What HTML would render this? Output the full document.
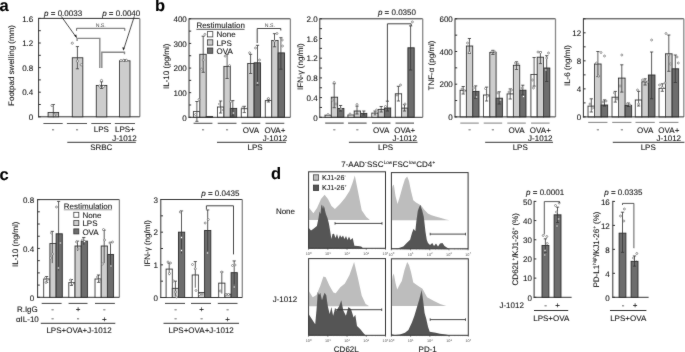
<!DOCTYPE html><html><head><meta charset="utf-8"><style>html,body{margin:0;padding:0;background:#fff;}svg{display:block;font-family:"Liberation Sans",sans-serif;fill:#111;filter:grayscale(100%);}text{fill:#111;stroke:#111;stroke-width:0.08px;text-rendering:geometricPrecision;}</style></head><body>
<svg width="685" height="352" viewBox="0 0 685 352">
<defs><filter id="bl" filterUnits="userSpaceOnUse" x="0" y="0" width="685" height="352"><feConvolveMatrix order="3" kernelMatrix="0.015 0.05 0.015 0.05 0.74 0.05 0.015 0.05 0.015" preserveAlpha="false"/></filter></defs>
<rect width="685" height="352" fill="#fff"/>
<g filter="url(#bl)">
<text x="-0.4" y="11.2" font-size="16.5" text-anchor="start" font-weight="bold" style="fill:#000">a</text>
<text x="155" y="11.3" font-size="16.5" text-anchor="start" font-weight="bold" style="fill:#000">b</text>
<text x="-0.4" y="179.6" font-size="16.5" text-anchor="start" font-weight="bold" style="fill:#000">c</text>
<text x="271.1" y="179.2" font-size="16.5" text-anchor="start" font-weight="bold" style="fill:#000">d</text>
<line x1="38.6" y1="18.4" x2="139.8" y2="18.4" stroke="#333" stroke-width="1"/>
<line x1="139.8" y1="18.4" x2="139.8" y2="116.8" stroke="#888" stroke-width="1.3"/>
<line x1="38.6" y1="17.9" x2="38.6" y2="117.3" stroke="#333" stroke-width="1"/>
<line x1="38.1" y1="116.8" x2="139.8" y2="116.8" stroke="#333" stroke-width="1"/>
<line x1="38.6" y1="116.8" x2="40.8" y2="116.8" stroke="#333" stroke-width="1.0"/>
<text x="33.3" y="120.05" font-size="8" text-anchor="end" >0</text>
<line x1="38.6" y1="92.2" x2="40.8" y2="92.2" stroke="#333" stroke-width="1.0"/>
<text x="33.3" y="95.45" font-size="8" text-anchor="end" >0.4</text>
<line x1="38.6" y1="67.6" x2="40.8" y2="67.6" stroke="#333" stroke-width="1.0"/>
<text x="33.3" y="70.85" font-size="8" text-anchor="end" >0.8</text>
<line x1="38.6" y1="43" x2="40.8" y2="43" stroke="#333" stroke-width="1.0"/>
<text x="33.3" y="46.25" font-size="8" text-anchor="end" >1.2</text>
<line x1="38.6" y1="18.4" x2="40.8" y2="18.4" stroke="#333" stroke-width="1.0"/>
<text x="33.3" y="21.65" font-size="8" text-anchor="end" >1.6</text>
<line x1="38.6" y1="104.5" x2="40.8" y2="104.5" stroke="#333" stroke-width="1.0"/>
<line x1="38.6" y1="79.9" x2="40.8" y2="79.9" stroke="#333" stroke-width="1.0"/>
<line x1="38.6" y1="55.3" x2="40.8" y2="55.3" stroke="#333" stroke-width="1.0"/>
<line x1="38.6" y1="30.7" x2="40.8" y2="30.7" stroke="#333" stroke-width="1.0"/>
<text transform="translate(13.7,65.5) rotate(-90)" font-size="8" text-anchor="middle" >Footpad swelling (mm)</text>
<rect x="48.1" y="112.49" width="10.5" height="4.31" fill="#cdcdcd" stroke="#2a2a2a" stroke-width="0.9"/>
<rect x="72.3" y="57.76" width="10.5" height="59.04" fill="#cdcdcd" stroke="#2a2a2a" stroke-width="0.9"/>
<rect x="96.3" y="85.44" width="10.5" height="31.36" fill="#cdcdcd" stroke="#2a2a2a" stroke-width="0.9"/>
<rect x="119.5" y="60.83" width="10.5" height="55.97" fill="#cdcdcd" stroke="#2a2a2a" stroke-width="0.9"/>
<line x1="53.3" y1="104.5" x2="53.3" y2="117.3" stroke="#333" stroke-width="0.8"/>
<line x1="51.7" y1="104.5" x2="54.9" y2="104.5" stroke="#333" stroke-width="0.8"/>
<line x1="77.4" y1="46.6" x2="77.4" y2="68.8" stroke="#333" stroke-width="0.8"/>
<line x1="75.8" y1="46.6" x2="79" y2="46.6" stroke="#333" stroke-width="0.8"/>
<line x1="75.8" y1="68.8" x2="79" y2="68.8" stroke="#333" stroke-width="0.8"/>
<line x1="101.5" y1="81.75" x2="101.5" y2="88.51" stroke="#333" stroke-width="0.8"/>
<line x1="99.9" y1="81.75" x2="103.1" y2="81.75" stroke="#333" stroke-width="0.8"/>
<line x1="99.9" y1="88.51" x2="103.1" y2="88.51" stroke="#333" stroke-width="0.8"/>
<line x1="124.7" y1="59.6" x2="124.7" y2="62.06" stroke="#333" stroke-width="0.8"/>
<line x1="123.1" y1="59.6" x2="126.3" y2="59.6" stroke="#333" stroke-width="0.8"/>
<circle cx="52" cy="105.5" r="1.1" fill="white" stroke="#555" stroke-width="0.6"/>
<circle cx="54.5" cy="115" r="1.1" fill="white" stroke="#555" stroke-width="0.6"/>
<circle cx="56" cy="114" r="1.1" fill="white" stroke="#555" stroke-width="0.6"/>
<circle cx="72.3" cy="43.2" r="1.1" fill="white" stroke="#555" stroke-width="0.6"/>
<circle cx="77.4" cy="61.1" r="1.1" fill="white" stroke="#555" stroke-width="0.6"/>
<circle cx="81.3" cy="64.8" r="1.1" fill="white" stroke="#555" stroke-width="0.6"/>
<circle cx="101.5" cy="80.5" r="1.1" fill="white" stroke="#555" stroke-width="0.6"/>
<circle cx="99.5" cy="86" r="1.1" fill="white" stroke="#555" stroke-width="0.6"/>
<circle cx="103.5" cy="86.5" r="1.1" fill="white" stroke="#555" stroke-width="0.6"/>
<circle cx="121" cy="60.5" r="1.1" fill="white" stroke="#555" stroke-width="0.6"/>
<circle cx="123.6" cy="60.3" r="1.1" fill="white" stroke="#555" stroke-width="0.6"/>
<circle cx="126.4" cy="60.3" r="1.1" fill="white" stroke="#555" stroke-width="0.6"/>
<text x="44.1" y="15.7" font-size="8" text-anchor="start" ><tspan font-style="italic">p</tspan> = 0.0033</text>
<text x="102.2" y="15.7" font-size="8" text-anchor="start" ><tspan font-style="italic">p</tspan> = 0.0040</text>
<path d="M61.3,16.4 L76.2,37.2" stroke="#222" stroke-width="0.8" fill="none"/>
<path d="M76.9,38.3 L74.2,35.6 L76.3,34.6 Z" fill="#222"/>
<path d="M134.3,16.4 L123.6,49.6" stroke="#222" stroke-width="0.8" fill="none"/>
<path d="M123.3,50.8 L122.3,47.2 L124.7,47.7 Z" fill="#222"/>
<path d="M76.6,30.8 V28.3 H124.8 V30.8" stroke="#555" stroke-width="0.9" fill="none"/>
<text x="100.7" y="27" font-size="5.2" text-anchor="middle" style="stroke:none;fill:#444">N.S.</text>
<path d="M77.1,41 V38.4 H99.8 V68" stroke="#888" stroke-width="1.4" fill="none"/>
<path d="M101.8,68 V52.2 H124.5 V54.3" stroke="#888" stroke-width="1.4" fill="none"/>
<line x1="43.4" y1="123.5" x2="62.7" y2="123.5" stroke="#555" stroke-width="1"/>
<line x1="66.9" y1="123.5" x2="87" y2="123.5" stroke="#555" stroke-width="1"/>
<line x1="91.3" y1="123.5" x2="111" y2="123.5" stroke="#555" stroke-width="1"/>
<line x1="114.8" y1="123.5" x2="135" y2="123.5" stroke="#555" stroke-width="1"/>
<text x="53.1" y="132" font-size="8" text-anchor="middle" >-</text>
<text x="77" y="132" font-size="8" text-anchor="middle" >-</text>
<text x="101.3" y="132.4" font-size="8" text-anchor="middle" >LPS</text>
<text x="124.9" y="132.4" font-size="8" text-anchor="middle" >LPS+</text>
<text x="124.4" y="140.7" font-size="8" text-anchor="middle" >J-1012</text>
<line x1="67.3" y1="142.3" x2="135.8" y2="142.3" stroke="#333" stroke-width="1"/>
<text x="101.3" y="149.5" font-size="8" text-anchor="middle" >SRBC</text>
<rect x="193.4" y="111.6" width="6.4" height="5.7" fill="#fff" stroke="#2a2a2a" stroke-width="0.9"/>
<rect x="199.8" y="54.3" width="6.4" height="63" fill="#cdcdcd" stroke="#2a2a2a" stroke-width="0.9"/>
<rect x="206.2" y="116.6" width="6.4" height="0.7" fill="#6d6d6d" stroke="#2a2a2a" stroke-width="0.9"/>
<rect x="217.5" y="107" width="6.4" height="10.3" fill="#fff" stroke="#2a2a2a" stroke-width="0.9"/>
<rect x="223.9" y="66.4" width="6.4" height="50.9" fill="#cdcdcd" stroke="#2a2a2a" stroke-width="0.9"/>
<rect x="230.3" y="108.4" width="6.4" height="8.9" fill="#6d6d6d" stroke="#2a2a2a" stroke-width="0.9"/>
<rect x="241.3" y="108.7" width="6.4" height="8.6" fill="#fff" stroke="#2a2a2a" stroke-width="0.9"/>
<rect x="247.7" y="63.5" width="6.4" height="53.8" fill="#cdcdcd" stroke="#2a2a2a" stroke-width="0.9"/>
<rect x="254.1" y="62.8" width="6.4" height="54.5" fill="#6d6d6d" stroke="#2a2a2a" stroke-width="0.9"/>
<rect x="265.3" y="100.6" width="6.4" height="16.7" fill="#fff" stroke="#2a2a2a" stroke-width="0.9"/>
<rect x="271.7" y="40.5" width="6.4" height="76.8" fill="#cdcdcd" stroke="#2a2a2a" stroke-width="0.9"/>
<rect x="278.1" y="52.9" width="6.4" height="64.4" fill="#6d6d6d" stroke="#2a2a2a" stroke-width="0.9"/>
<line x1="189" y1="18.8" x2="290.4" y2="18.8" stroke="#333" stroke-width="1"/>
<line x1="290.4" y1="18.8" x2="290.4" y2="117.3" stroke="#888" stroke-width="1.3"/>
<line x1="189" y1="18.3" x2="189" y2="117.8" stroke="#333" stroke-width="1"/>
<line x1="188.5" y1="117.3" x2="290.4" y2="117.3" stroke="#333" stroke-width="1"/>
<line x1="189" y1="117.3" x2="191.2" y2="117.3" stroke="#333" stroke-width="1.0"/>
<text x="186.8" y="120.55" font-size="8" text-anchor="end" >0</text>
<line x1="189" y1="92.67" x2="191.2" y2="92.67" stroke="#333" stroke-width="1.0"/>
<text x="186.8" y="95.92" font-size="8" text-anchor="end" >100</text>
<line x1="189" y1="68.05" x2="191.2" y2="68.05" stroke="#333" stroke-width="1.0"/>
<text x="186.8" y="71.3" font-size="8" text-anchor="end" >200</text>
<line x1="189" y1="43.42" x2="191.2" y2="43.42" stroke="#333" stroke-width="1.0"/>
<text x="186.8" y="46.67" font-size="8" text-anchor="end" >300</text>
<line x1="189" y1="18.8" x2="191.2" y2="18.8" stroke="#333" stroke-width="1.0"/>
<text x="186.8" y="22.05" font-size="8" text-anchor="end" >400</text>
<line x1="189" y1="104.99" x2="191.2" y2="104.99" stroke="#333" stroke-width="1.0"/>
<line x1="189" y1="80.36" x2="191.2" y2="80.36" stroke="#333" stroke-width="1.0"/>
<line x1="189" y1="55.74" x2="191.2" y2="55.74" stroke="#333" stroke-width="1.0"/>
<line x1="189" y1="31.11" x2="191.2" y2="31.11" stroke="#333" stroke-width="1.0"/>
<text transform="translate(168.6,66.3) rotate(-90)" font-size="8" text-anchor="middle" >IL-10 (pg/ml)</text>
<line x1="196.9" y1="101.5" x2="196.9" y2="121.3" stroke="#333" stroke-width="0.8"/>
<line x1="195.3" y1="101.5" x2="198.5" y2="101.5" stroke="#333" stroke-width="0.8"/>
<line x1="195.3" y1="121.3" x2="198.5" y2="121.3" stroke="#333" stroke-width="0.8"/>
<line x1="203.2" y1="36.2" x2="203.2" y2="72.3" stroke="#333" stroke-width="0.8"/>
<line x1="201.6" y1="36.2" x2="204.8" y2="36.2" stroke="#333" stroke-width="0.8"/>
<line x1="201.6" y1="72.3" x2="204.8" y2="72.3" stroke="#333" stroke-width="0.8"/>
<line x1="220.6" y1="101" x2="220.6" y2="113" stroke="#333" stroke-width="0.8"/>
<line x1="219" y1="101" x2="222.2" y2="101" stroke="#333" stroke-width="0.8"/>
<line x1="219" y1="113" x2="222.2" y2="113" stroke="#333" stroke-width="0.8"/>
<line x1="227.1" y1="54.3" x2="227.1" y2="78.5" stroke="#333" stroke-width="0.8"/>
<line x1="225.5" y1="54.3" x2="228.7" y2="54.3" stroke="#333" stroke-width="0.8"/>
<line x1="225.5" y1="78.5" x2="228.7" y2="78.5" stroke="#333" stroke-width="0.8"/>
<line x1="232.8" y1="100.6" x2="232.8" y2="116" stroke="#333" stroke-width="0.8"/>
<line x1="231.2" y1="100.6" x2="234.4" y2="100.6" stroke="#333" stroke-width="0.8"/>
<line x1="231.2" y1="116" x2="234.4" y2="116" stroke="#333" stroke-width="0.8"/>
<line x1="244.3" y1="106.3" x2="244.3" y2="112.6" stroke="#333" stroke-width="0.8"/>
<line x1="242.7" y1="106.3" x2="245.9" y2="106.3" stroke="#333" stroke-width="0.8"/>
<line x1="242.7" y1="112.6" x2="245.9" y2="112.6" stroke="#333" stroke-width="0.8"/>
<line x1="250.6" y1="54.3" x2="250.6" y2="73.5" stroke="#333" stroke-width="0.8"/>
<line x1="249" y1="54.3" x2="252.2" y2="54.3" stroke="#333" stroke-width="0.8"/>
<line x1="249" y1="73.5" x2="252.2" y2="73.5" stroke="#333" stroke-width="0.8"/>
<line x1="257.5" y1="45.3" x2="257.5" y2="85" stroke="#333" stroke-width="0.8"/>
<line x1="255.9" y1="45.3" x2="259.1" y2="45.3" stroke="#333" stroke-width="0.8"/>
<line x1="255.9" y1="85" x2="259.1" y2="85" stroke="#333" stroke-width="0.8"/>
<line x1="268.4" y1="99.1" x2="268.4" y2="102" stroke="#333" stroke-width="0.8"/>
<line x1="266.8" y1="99.1" x2="270" y2="99.1" stroke="#333" stroke-width="0.8"/>
<line x1="266.8" y1="102" x2="270" y2="102" stroke="#333" stroke-width="0.8"/>
<line x1="274.5" y1="33.7" x2="274.5" y2="46.8" stroke="#333" stroke-width="0.8"/>
<line x1="272.9" y1="33.7" x2="276.1" y2="33.7" stroke="#333" stroke-width="0.8"/>
<line x1="272.9" y1="46.8" x2="276.1" y2="46.8" stroke="#333" stroke-width="0.8"/>
<line x1="280.9" y1="37.7" x2="280.9" y2="69.2" stroke="#333" stroke-width="0.8"/>
<line x1="279.3" y1="37.7" x2="282.5" y2="37.7" stroke="#333" stroke-width="0.8"/>
<line x1="279.3" y1="69.2" x2="282.5" y2="69.2" stroke="#333" stroke-width="0.8"/>
<circle cx="199" cy="99.5" r="1.0" fill="white" stroke="#555" stroke-width="0.6"/>
<circle cx="195.5" cy="114.5" r="1.0" fill="white" stroke="#555" stroke-width="0.6"/>
<circle cx="204.9" cy="34.4" r="1.0" fill="white" stroke="#555" stroke-width="0.6"/>
<circle cx="203.2" cy="60" r="1.0" fill="white" stroke="#555" stroke-width="0.6"/>
<circle cx="201.5" cy="69.2" r="1.0" fill="white" stroke="#555" stroke-width="0.6"/>
<circle cx="225.2" cy="56.1" r="1.0" fill="white" stroke="#555" stroke-width="0.6"/>
<circle cx="229.5" cy="65.6" r="1.0" fill="white" stroke="#555" stroke-width="0.6"/>
<circle cx="219.5" cy="104" r="1.0" fill="white" stroke="#555" stroke-width="0.6"/>
<circle cx="221.5" cy="110" r="1.0" fill="white" stroke="#555" stroke-width="0.6"/>
<circle cx="230.8" cy="101.5" r="1.0" fill="white" stroke="#555" stroke-width="0.6"/>
<circle cx="233.5" cy="113" r="1.0" fill="white" stroke="#555" stroke-width="0.6"/>
<circle cx="242.8" cy="107.3" r="1.0" fill="white" stroke="#555" stroke-width="0.6"/>
<circle cx="249.6" cy="52.8" r="1.0" fill="white" stroke="#555" stroke-width="0.6"/>
<circle cx="255.5" cy="48" r="1.0" fill="white" stroke="#555" stroke-width="0.6"/>
<circle cx="259.5" cy="60" r="1.0" fill="white" stroke="#555" stroke-width="0.6"/>
<circle cx="257.5" cy="83" r="1.0" fill="white" stroke="#555" stroke-width="0.6"/>
<circle cx="268.4" cy="98.5" r="1.0" fill="white" stroke="#555" stroke-width="0.6"/>
<circle cx="277" cy="33.5" r="1.0" fill="white" stroke="#555" stroke-width="0.6"/>
<circle cx="274.5" cy="41" r="1.0" fill="white" stroke="#555" stroke-width="0.6"/>
<circle cx="282.2" cy="40" r="1.0" fill="white" stroke="#555" stroke-width="0.6"/>
<circle cx="282.5" cy="46" r="1.0" fill="white" stroke="#555" stroke-width="0.6"/>
<line x1="193.6" y1="123.3" x2="212.4" y2="123.3" stroke="#555" stroke-width="1.1"/>
<line x1="217.7" y1="123.3" x2="236.5" y2="123.3" stroke="#555" stroke-width="1.1"/>
<line x1="241.5" y1="123.3" x2="260.3" y2="123.3" stroke="#555" stroke-width="1.1"/>
<line x1="265.5" y1="123.3" x2="284.3" y2="123.3" stroke="#555" stroke-width="1.1"/>
<text x="203" y="131.6" font-size="8" text-anchor="middle" >-</text>
<text x="227.1" y="131.6" font-size="8" text-anchor="middle" >-</text>
<text x="250.9" y="132.7" font-size="8" text-anchor="middle" >OVA</text>
<text x="274.9" y="132.7" font-size="8" text-anchor="middle" >OVA+</text>
<text x="274.9" y="140.6" font-size="8" text-anchor="middle" >J-1012</text>
<line x1="217" y1="142.3" x2="286" y2="142.3" stroke="#333" stroke-width="1"/>
<text x="255" y="150" font-size="8" text-anchor="middle" >LPS</text>
<text x="196.4" y="28.3" font-size="8" text-anchor="start" >Restimulation</text>
<line x1="196.4" y1="29.3" x2="244.5" y2="29.3" stroke="#444" stroke-width="0.9"/>
<rect x="207.5" y="31.6" width="5.3" height="5.3" fill="#fff" stroke="#333" stroke-width="0.8"/>
<text x="216.6" y="37.4" font-size="8" text-anchor="start" >None</text>
<rect x="207.5" y="39.8" width="5.3" height="5.3" fill="#cdcdcd" stroke="#333" stroke-width="0.8"/>
<text x="216.6" y="45.6" font-size="8" text-anchor="start" >LPS</text>
<rect x="207.5" y="48" width="5.3" height="5.3" fill="#6d6d6d" stroke="#333" stroke-width="0.8"/>
<text x="216.6" y="53.8" font-size="8" text-anchor="start" >OVA</text>
<path d="M257.2,43 V28.5 H280.8 V30.5" stroke="#333" stroke-width="0.9" fill="none"/>
<text x="269.9" y="27.4" font-size="5.2" text-anchor="middle" style="stroke:none;fill:#444">N.S.</text>
<rect x="325" y="115.2" width="6.3" height="2.1" fill="#fff" stroke="#2a2a2a" stroke-width="0.9"/>
<rect x="331.3" y="97.2" width="6.3" height="20.1" fill="#cdcdcd" stroke="#2a2a2a" stroke-width="0.9"/>
<rect x="337.6" y="108.5" width="6.3" height="8.8" fill="#6d6d6d" stroke="#2a2a2a" stroke-width="0.9"/>
<rect x="347.9" y="115" width="6.3" height="2.3" fill="#fff" stroke="#2a2a2a" stroke-width="0.9"/>
<rect x="354.2" y="111" width="6.3" height="6.3" fill="#cdcdcd" stroke="#2a2a2a" stroke-width="0.9"/>
<rect x="360.5" y="113.4" width="6.3" height="3.9" fill="#6d6d6d" stroke="#2a2a2a" stroke-width="0.9"/>
<rect x="371.8" y="113.1" width="6.3" height="4.2" fill="#fff" stroke="#2a2a2a" stroke-width="0.9"/>
<rect x="378.1" y="109.4" width="6.3" height="7.9" fill="#cdcdcd" stroke="#2a2a2a" stroke-width="0.9"/>
<rect x="384.4" y="108" width="6.3" height="9.3" fill="#6d6d6d" stroke="#2a2a2a" stroke-width="0.9"/>
<rect x="395.3" y="93.8" width="6.3" height="23.5" fill="#fff" stroke="#2a2a2a" stroke-width="0.9"/>
<rect x="401.6" y="108.1" width="6.3" height="9.2" fill="#cdcdcd" stroke="#2a2a2a" stroke-width="0.9"/>
<rect x="407.9" y="47.8" width="6.3" height="69.5" fill="#6d6d6d" stroke="#2a2a2a" stroke-width="0.9"/>
<line x1="319.8" y1="18.8" x2="422.7" y2="18.8" stroke="#333" stroke-width="1"/>
<line x1="422.7" y1="18.8" x2="422.7" y2="117.3" stroke="#888" stroke-width="1.3"/>
<line x1="319.8" y1="18.3" x2="319.8" y2="117.8" stroke="#333" stroke-width="1"/>
<line x1="319.3" y1="117.3" x2="422.7" y2="117.3" stroke="#333" stroke-width="1"/>
<line x1="319.8" y1="117.3" x2="322" y2="117.3" stroke="#333" stroke-width="1.0"/>
<text x="317.6" y="120.55" font-size="8" text-anchor="end" >0</text>
<line x1="319.8" y1="97.6" x2="322" y2="97.6" stroke="#333" stroke-width="1.0"/>
<text x="317.6" y="100.85" font-size="8" text-anchor="end" >0.4</text>
<line x1="319.8" y1="77.9" x2="322" y2="77.9" stroke="#333" stroke-width="1.0"/>
<text x="317.6" y="81.15" font-size="8" text-anchor="end" >0.8</text>
<line x1="319.8" y1="58.2" x2="322" y2="58.2" stroke="#333" stroke-width="1.0"/>
<text x="317.6" y="61.45" font-size="8" text-anchor="end" >1.2</text>
<line x1="319.8" y1="38.5" x2="322" y2="38.5" stroke="#333" stroke-width="1.0"/>
<text x="317.6" y="41.75" font-size="8" text-anchor="end" >1.6</text>
<line x1="319.8" y1="18.8" x2="322" y2="18.8" stroke="#333" stroke-width="1.0"/>
<text x="317.6" y="22.05" font-size="8" text-anchor="end" >2.0</text>
<line x1="319.8" y1="107.45" x2="322" y2="107.45" stroke="#333" stroke-width="1.0"/>
<line x1="319.8" y1="87.75" x2="322" y2="87.75" stroke="#333" stroke-width="1.0"/>
<line x1="319.8" y1="68.05" x2="322" y2="68.05" stroke="#333" stroke-width="1.0"/>
<line x1="319.8" y1="48.35" x2="322" y2="48.35" stroke="#333" stroke-width="1.0"/>
<line x1="319.8" y1="28.65" x2="322" y2="28.65" stroke="#333" stroke-width="1.0"/>
<text transform="translate(302.6,66.6) rotate(-90)" font-size="8" text-anchor="middle" >IFN-&#947; (ng/ml)</text>
<line x1="334.2" y1="83.7" x2="334.2" y2="107.7" stroke="#333" stroke-width="0.8"/>
<line x1="332.6" y1="83.7" x2="335.8" y2="83.7" stroke="#333" stroke-width="0.8"/>
<line x1="332.6" y1="107.7" x2="335.8" y2="107.7" stroke="#333" stroke-width="0.8"/>
<line x1="340.6" y1="105.5" x2="340.6" y2="111" stroke="#333" stroke-width="0.8"/>
<line x1="339" y1="105.5" x2="342.2" y2="105.5" stroke="#333" stroke-width="0.8"/>
<line x1="339" y1="111" x2="342.2" y2="111" stroke="#333" stroke-width="0.8"/>
<line x1="357" y1="106.1" x2="357" y2="114" stroke="#333" stroke-width="0.8"/>
<line x1="355.4" y1="106.1" x2="358.6" y2="106.1" stroke="#333" stroke-width="0.8"/>
<line x1="355.4" y1="114" x2="358.6" y2="114" stroke="#333" stroke-width="0.8"/>
<line x1="363.8" y1="111" x2="363.8" y2="115" stroke="#333" stroke-width="0.8"/>
<line x1="362.2" y1="111" x2="365.4" y2="111" stroke="#333" stroke-width="0.8"/>
<line x1="362.2" y1="115" x2="365.4" y2="115" stroke="#333" stroke-width="0.8"/>
<line x1="375" y1="111" x2="375" y2="115" stroke="#333" stroke-width="0.8"/>
<line x1="373.4" y1="111" x2="376.6" y2="111" stroke="#333" stroke-width="0.8"/>
<line x1="373.4" y1="115" x2="376.6" y2="115" stroke="#333" stroke-width="0.8"/>
<line x1="381.2" y1="106.5" x2="381.2" y2="112" stroke="#333" stroke-width="0.8"/>
<line x1="379.6" y1="106.5" x2="382.8" y2="106.5" stroke="#333" stroke-width="0.8"/>
<line x1="379.6" y1="112" x2="382.8" y2="112" stroke="#333" stroke-width="0.8"/>
<line x1="387.4" y1="101.2" x2="387.4" y2="111" stroke="#333" stroke-width="0.8"/>
<line x1="385.8" y1="101.2" x2="389" y2="101.2" stroke="#333" stroke-width="0.8"/>
<line x1="385.8" y1="111" x2="389" y2="111" stroke="#333" stroke-width="0.8"/>
<line x1="398.4" y1="86.3" x2="398.4" y2="101" stroke="#333" stroke-width="0.8"/>
<line x1="396.8" y1="86.3" x2="400" y2="86.3" stroke="#333" stroke-width="0.8"/>
<line x1="396.8" y1="101" x2="400" y2="101" stroke="#333" stroke-width="0.8"/>
<line x1="404.5" y1="104.7" x2="404.5" y2="111" stroke="#333" stroke-width="0.8"/>
<line x1="402.9" y1="104.7" x2="406.1" y2="104.7" stroke="#333" stroke-width="0.8"/>
<line x1="402.9" y1="111" x2="406.1" y2="111" stroke="#333" stroke-width="0.8"/>
<line x1="410.6" y1="25.9" x2="410.6" y2="70" stroke="#333" stroke-width="0.8"/>
<line x1="409" y1="25.9" x2="412.2" y2="25.9" stroke="#333" stroke-width="0.8"/>
<line x1="409" y1="70" x2="412.2" y2="70" stroke="#333" stroke-width="0.8"/>
<circle cx="334.2" cy="82.5" r="1.0" fill="white" stroke="#555" stroke-width="0.6"/>
<circle cx="332.5" cy="100" r="1.0" fill="white" stroke="#555" stroke-width="0.6"/>
<circle cx="336" cy="104" r="1.0" fill="white" stroke="#555" stroke-width="0.6"/>
<circle cx="328" cy="114.5" r="1.0" fill="white" stroke="#555" stroke-width="0.6"/>
<circle cx="341" cy="109" r="1.0" fill="white" stroke="#555" stroke-width="0.6"/>
<circle cx="350" cy="114" r="1.0" fill="white" stroke="#555" stroke-width="0.6"/>
<circle cx="357" cy="104.5" r="1.0" fill="white" stroke="#555" stroke-width="0.6"/>
<circle cx="376.5" cy="110" r="1.0" fill="white" stroke="#555" stroke-width="0.6"/>
<circle cx="385.5" cy="106.5" r="1.0" fill="white" stroke="#555" stroke-width="0.6"/>
<circle cx="400.5" cy="85" r="1.0" fill="white" stroke="#555" stroke-width="0.6"/>
<circle cx="397" cy="95" r="1.0" fill="white" stroke="#555" stroke-width="0.6"/>
<circle cx="405" cy="104" r="1.0" fill="white" stroke="#555" stroke-width="0.6"/>
<circle cx="412.4" cy="21.9" r="1.0" fill="white" stroke="#555" stroke-width="0.6"/>
<line x1="325.2" y1="123.1" x2="343.7" y2="123.1" stroke="#4a4a4a" stroke-width="1.1"/>
<line x1="348.1" y1="123.1" x2="366.6" y2="123.1" stroke="#4a4a4a" stroke-width="1.1"/>
<line x1="372" y1="123.1" x2="390.5" y2="123.1" stroke="#4a4a4a" stroke-width="1.1"/>
<line x1="395.5" y1="123.1" x2="414" y2="123.1" stroke="#4a4a4a" stroke-width="1.1"/>
<text x="334.45" y="131.6" font-size="8" text-anchor="middle" >-</text>
<text x="357.35" y="131.6" font-size="8" text-anchor="middle" >-</text>
<text x="381.25" y="132.7" font-size="8" text-anchor="middle" >OVA</text>
<text x="404.75" y="132.7" font-size="8" text-anchor="middle" >OVA+</text>
<text x="404.75" y="140.6" font-size="8" text-anchor="middle" >J-1012</text>
<line x1="348.9" y1="142.3" x2="417.5" y2="142.3" stroke="#333" stroke-width="1"/>
<text x="385.6" y="150" font-size="8" text-anchor="middle" >LPS</text>
<text x="377.9" y="15.4" font-size="8" text-anchor="start" ><tspan font-style="italic">p</tspan> = 0.0350</text>
<path d="M387.4,101.3 V23.8 H411.2 V26" stroke="#333" stroke-width="0.9" fill="none"/>
<rect x="460.1" y="90.3" width="6.3" height="26.6" fill="#fff" stroke="#2a2a2a" stroke-width="0.9"/>
<rect x="466.4" y="46" width="6.3" height="70.9" fill="#cdcdcd" stroke="#2a2a2a" stroke-width="0.9"/>
<rect x="472.7" y="91.4" width="6.3" height="25.5" fill="#6d6d6d" stroke="#2a2a2a" stroke-width="0.9"/>
<rect x="483.5" y="95" width="6.3" height="21.9" fill="#fff" stroke="#2a2a2a" stroke-width="0.9"/>
<rect x="489.8" y="52.4" width="6.3" height="64.5" fill="#cdcdcd" stroke="#2a2a2a" stroke-width="0.9"/>
<rect x="496.1" y="98.2" width="6.3" height="18.7" fill="#6d6d6d" stroke="#2a2a2a" stroke-width="0.9"/>
<rect x="507.1" y="93.9" width="6.3" height="23" fill="#fff" stroke="#2a2a2a" stroke-width="0.9"/>
<rect x="513.4" y="65.3" width="6.3" height="51.6" fill="#cdcdcd" stroke="#2a2a2a" stroke-width="0.9"/>
<rect x="519.7" y="90.2" width="6.3" height="26.7" fill="#6d6d6d" stroke="#2a2a2a" stroke-width="0.9"/>
<rect x="530.9" y="74.5" width="6.3" height="42.4" fill="#fff" stroke="#2a2a2a" stroke-width="0.9"/>
<rect x="537.2" y="57.2" width="6.3" height="59.7" fill="#cdcdcd" stroke="#2a2a2a" stroke-width="0.9"/>
<rect x="543.5" y="68" width="6.3" height="48.9" fill="#6d6d6d" stroke="#2a2a2a" stroke-width="0.9"/>
<line x1="455" y1="18.8" x2="555.5" y2="18.8" stroke="#333" stroke-width="1"/>
<line x1="555.5" y1="18.8" x2="555.5" y2="116.9" stroke="#888" stroke-width="1.3"/>
<line x1="455" y1="18.3" x2="455" y2="117.4" stroke="#333" stroke-width="1"/>
<line x1="454.5" y1="116.9" x2="555.5" y2="116.9" stroke="#333" stroke-width="1"/>
<line x1="455" y1="116.9" x2="457.2" y2="116.9" stroke="#333" stroke-width="1.0"/>
<text x="452.8" y="120.15" font-size="8" text-anchor="end" >0</text>
<line x1="455" y1="84.2" x2="457.2" y2="84.2" stroke="#333" stroke-width="1.0"/>
<text x="452.8" y="87.45" font-size="8" text-anchor="end" >200</text>
<line x1="455" y1="51.5" x2="457.2" y2="51.5" stroke="#333" stroke-width="1.0"/>
<text x="452.8" y="54.75" font-size="8" text-anchor="end" >400</text>
<line x1="455" y1="18.8" x2="457.2" y2="18.8" stroke="#333" stroke-width="1.0"/>
<text x="452.8" y="22.05" font-size="8" text-anchor="end" >600</text>
<line x1="455" y1="100.55" x2="457.2" y2="100.55" stroke="#333" stroke-width="1.0"/>
<line x1="455" y1="67.85" x2="457.2" y2="67.85" stroke="#333" stroke-width="1.0"/>
<line x1="455" y1="35.15" x2="457.2" y2="35.15" stroke="#333" stroke-width="1.0"/>
<text transform="translate(434.3,65.5) rotate(-90)" font-size="8" text-anchor="middle" >TNF-&#945; (pg/ml)</text>
<line x1="463.2" y1="86.5" x2="463.2" y2="94" stroke="#333" stroke-width="0.8"/>
<line x1="461.6" y1="86.5" x2="464.8" y2="86.5" stroke="#333" stroke-width="0.8"/>
<line x1="461.6" y1="94" x2="464.8" y2="94" stroke="#333" stroke-width="0.8"/>
<line x1="469.4" y1="38.5" x2="469.4" y2="53.5" stroke="#333" stroke-width="0.8"/>
<line x1="467.8" y1="38.5" x2="471" y2="38.5" stroke="#333" stroke-width="0.8"/>
<line x1="467.8" y1="53.5" x2="471" y2="53.5" stroke="#333" stroke-width="0.8"/>
<line x1="475.7" y1="85.9" x2="475.7" y2="98.2" stroke="#333" stroke-width="0.8"/>
<line x1="474.1" y1="85.9" x2="477.3" y2="85.9" stroke="#333" stroke-width="0.8"/>
<line x1="474.1" y1="98.2" x2="477.3" y2="98.2" stroke="#333" stroke-width="0.8"/>
<line x1="486.6" y1="87.1" x2="486.6" y2="101" stroke="#333" stroke-width="0.8"/>
<line x1="485" y1="87.1" x2="488.2" y2="87.1" stroke="#333" stroke-width="0.8"/>
<line x1="485" y1="101" x2="488.2" y2="101" stroke="#333" stroke-width="0.8"/>
<line x1="492.9" y1="50.3" x2="492.9" y2="54.5" stroke="#333" stroke-width="0.8"/>
<line x1="491.3" y1="50.3" x2="494.5" y2="50.3" stroke="#333" stroke-width="0.8"/>
<line x1="491.3" y1="54.5" x2="494.5" y2="54.5" stroke="#333" stroke-width="0.8"/>
<line x1="499.2" y1="91.8" x2="499.2" y2="104" stroke="#333" stroke-width="0.8"/>
<line x1="497.6" y1="91.8" x2="500.8" y2="91.8" stroke="#333" stroke-width="0.8"/>
<line x1="497.6" y1="104" x2="500.8" y2="104" stroke="#333" stroke-width="0.8"/>
<line x1="510.2" y1="88.9" x2="510.2" y2="99" stroke="#333" stroke-width="0.8"/>
<line x1="508.6" y1="88.9" x2="511.8" y2="88.9" stroke="#333" stroke-width="0.8"/>
<line x1="508.6" y1="99" x2="511.8" y2="99" stroke="#333" stroke-width="0.8"/>
<line x1="516.5" y1="61.8" x2="516.5" y2="69.5" stroke="#333" stroke-width="0.8"/>
<line x1="514.9" y1="61.8" x2="518.1" y2="61.8" stroke="#333" stroke-width="0.8"/>
<line x1="514.9" y1="69.5" x2="518.1" y2="69.5" stroke="#333" stroke-width="0.8"/>
<line x1="522.8" y1="85.2" x2="522.8" y2="95" stroke="#333" stroke-width="0.8"/>
<line x1="521.2" y1="85.2" x2="524.4" y2="85.2" stroke="#333" stroke-width="0.8"/>
<line x1="521.2" y1="95" x2="524.4" y2="95" stroke="#333" stroke-width="0.8"/>
<line x1="534.1" y1="57.5" x2="534.1" y2="86.1" stroke="#333" stroke-width="0.8"/>
<line x1="532.5" y1="57.5" x2="535.7" y2="57.5" stroke="#333" stroke-width="0.8"/>
<line x1="532.5" y1="86.1" x2="535.7" y2="86.1" stroke="#333" stroke-width="0.8"/>
<line x1="540.4" y1="52" x2="540.4" y2="63.6" stroke="#333" stroke-width="0.8"/>
<line x1="538.8" y1="52" x2="542" y2="52" stroke="#333" stroke-width="0.8"/>
<line x1="538.8" y1="63.6" x2="542" y2="63.6" stroke="#333" stroke-width="0.8"/>
<line x1="546.7" y1="55.7" x2="546.7" y2="81.5" stroke="#333" stroke-width="0.8"/>
<line x1="545.1" y1="55.7" x2="548.3" y2="55.7" stroke="#333" stroke-width="0.8"/>
<line x1="545.1" y1="81.5" x2="548.3" y2="81.5" stroke="#333" stroke-width="0.8"/>
<circle cx="462" cy="89" r="1.0" fill="white" stroke="#555" stroke-width="0.6"/>
<circle cx="464.5" cy="91" r="1.0" fill="white" stroke="#555" stroke-width="0.6"/>
<circle cx="469.4" cy="52.5" r="1.0" fill="white" stroke="#555" stroke-width="0.6"/>
<circle cx="467.5" cy="43" r="1.0" fill="white" stroke="#555" stroke-width="0.6"/>
<circle cx="473.5" cy="88" r="1.0" fill="white" stroke="#555" stroke-width="0.6"/>
<circle cx="476.7" cy="97" r="1.0" fill="white" stroke="#555" stroke-width="0.6"/>
<circle cx="485.5" cy="88.5" r="1.0" fill="white" stroke="#555" stroke-width="0.6"/>
<circle cx="487.5" cy="96" r="1.0" fill="white" stroke="#555" stroke-width="0.6"/>
<circle cx="492" cy="51.5" r="1.0" fill="white" stroke="#555" stroke-width="0.6"/>
<circle cx="495" cy="52" r="1.0" fill="white" stroke="#555" stroke-width="0.6"/>
<circle cx="498" cy="93" r="1.0" fill="white" stroke="#555" stroke-width="0.6"/>
<circle cx="500.5" cy="100" r="1.0" fill="white" stroke="#555" stroke-width="0.6"/>
<circle cx="509" cy="92" r="1.0" fill="white" stroke="#555" stroke-width="0.6"/>
<circle cx="511.5" cy="90" r="1.0" fill="white" stroke="#555" stroke-width="0.6"/>
<circle cx="515.5" cy="63" r="1.0" fill="white" stroke="#555" stroke-width="0.6"/>
<circle cx="518" cy="64" r="1.0" fill="white" stroke="#555" stroke-width="0.6"/>
<circle cx="522" cy="88" r="1.0" fill="white" stroke="#555" stroke-width="0.6"/>
<circle cx="523.5" cy="96.5" r="1.0" fill="white" stroke="#555" stroke-width="0.6"/>
<circle cx="532.5" cy="80" r="1.0" fill="white" stroke="#555" stroke-width="0.6"/>
<circle cx="533.5" cy="88" r="1.0" fill="white" stroke="#555" stroke-width="0.6"/>
<circle cx="538" cy="52" r="1.0" fill="white" stroke="#555" stroke-width="0.6"/>
<circle cx="540.5" cy="52.5" r="1.0" fill="white" stroke="#555" stroke-width="0.6"/>
<circle cx="546.7" cy="58" r="1.0" fill="white" stroke="#555" stroke-width="0.6"/>
<circle cx="545.8" cy="70" r="1.0" fill="white" stroke="#555" stroke-width="0.6"/>
<circle cx="548.5" cy="53" r="1.0" fill="white" stroke="#555" stroke-width="0.6"/>
<line x1="460.3" y1="123.1" x2="478.8" y2="123.1" stroke="#8c8c8c" stroke-width="1.1"/>
<line x1="483.7" y1="123.1" x2="502.2" y2="123.1" stroke="#8c8c8c" stroke-width="1.1"/>
<line x1="507.3" y1="123.1" x2="525.8" y2="123.1" stroke="#8c8c8c" stroke-width="1.1"/>
<line x1="531.1" y1="123.1" x2="549.6" y2="123.1" stroke="#8c8c8c" stroke-width="1.1"/>
<text x="469.55" y="131.6" font-size="8" text-anchor="middle" >-</text>
<text x="492.95" y="131.6" font-size="8" text-anchor="middle" >-</text>
<text x="516.55" y="132.7" font-size="8" text-anchor="middle" >OVA</text>
<text x="540.35" y="132.7" font-size="8" text-anchor="middle" >OVA+</text>
<text x="540.35" y="140.6" font-size="8" text-anchor="middle" >J-1012</text>
<line x1="485.2" y1="142.3" x2="553" y2="142.3" stroke="#333" stroke-width="1"/>
<text x="520.2" y="150" font-size="8" text-anchor="middle" >LPS</text>
<rect x="588" y="106.1" width="6.55" height="10.8" fill="#fff" stroke="#2a2a2a" stroke-width="0.9"/>
<rect x="594.55" y="64" width="6.55" height="52.9" fill="#cdcdcd" stroke="#2a2a2a" stroke-width="0.9"/>
<rect x="601.1" y="105" width="6.55" height="11.9" fill="#6d6d6d" stroke="#2a2a2a" stroke-width="0.9"/>
<rect x="612" y="97.2" width="6.55" height="19.7" fill="#fff" stroke="#2a2a2a" stroke-width="0.9"/>
<rect x="618.55" y="78.1" width="6.55" height="38.8" fill="#cdcdcd" stroke="#2a2a2a" stroke-width="0.9"/>
<rect x="625.1" y="105.4" width="6.55" height="11.5" fill="#6d6d6d" stroke="#2a2a2a" stroke-width="0.9"/>
<rect x="635.3" y="100" width="6.55" height="16.9" fill="#fff" stroke="#2a2a2a" stroke-width="0.9"/>
<rect x="641.85" y="81.8" width="6.55" height="35.1" fill="#cdcdcd" stroke="#2a2a2a" stroke-width="0.9"/>
<rect x="648.4" y="75" width="6.55" height="41.9" fill="#6d6d6d" stroke="#2a2a2a" stroke-width="0.9"/>
<rect x="659" y="88.3" width="6.55" height="28.6" fill="#fff" stroke="#2a2a2a" stroke-width="0.9"/>
<rect x="665.55" y="53.8" width="6.55" height="63.1" fill="#cdcdcd" stroke="#2a2a2a" stroke-width="0.9"/>
<rect x="672.1" y="68.8" width="6.55" height="48.1" fill="#6d6d6d" stroke="#2a2a2a" stroke-width="0.9"/>
<line x1="583.4" y1="18.8" x2="683.8" y2="18.8" stroke="#333" stroke-width="1"/>
<line x1="683.8" y1="18.8" x2="683.8" y2="116.9" stroke="#888" stroke-width="1.3"/>
<line x1="583.4" y1="18.3" x2="583.4" y2="117.4" stroke="#333" stroke-width="1"/>
<line x1="582.9" y1="116.9" x2="683.8" y2="116.9" stroke="#333" stroke-width="1"/>
<line x1="583.4" y1="116.9" x2="585.6" y2="116.9" stroke="#333" stroke-width="1.0"/>
<text x="581.2" y="120.15" font-size="8" text-anchor="end" >0</text>
<line x1="583.4" y1="88.87" x2="585.6" y2="88.87" stroke="#333" stroke-width="1.0"/>
<text x="581.2" y="92.12" font-size="8" text-anchor="end" >4</text>
<line x1="583.4" y1="60.84" x2="585.6" y2="60.84" stroke="#333" stroke-width="1.0"/>
<text x="581.2" y="64.09" font-size="8" text-anchor="end" >8</text>
<line x1="583.4" y1="32.81" x2="585.6" y2="32.81" stroke="#333" stroke-width="1.0"/>
<text x="581.2" y="36.06" font-size="8" text-anchor="end" >12</text>
<line x1="583.4" y1="102.89" x2="585.6" y2="102.89" stroke="#333" stroke-width="1.0"/>
<line x1="583.4" y1="74.86" x2="585.6" y2="74.86" stroke="#333" stroke-width="1.0"/>
<line x1="583.4" y1="46.83" x2="585.6" y2="46.83" stroke="#333" stroke-width="1.0"/>
<line x1="583.4" y1="18.8" x2="585.6" y2="18.8" stroke="#333" stroke-width="1.0"/>
<text transform="translate(570.3,65.6) rotate(-90)" font-size="8" text-anchor="middle" >IL-6 (ng/ml)</text>
<line x1="591.3" y1="98.8" x2="591.3" y2="112" stroke="#333" stroke-width="0.8"/>
<line x1="589.7" y1="98.8" x2="592.9" y2="98.8" stroke="#333" stroke-width="0.8"/>
<line x1="589.7" y1="112" x2="592.9" y2="112" stroke="#333" stroke-width="0.8"/>
<line x1="597.9" y1="51.5" x2="597.9" y2="76.6" stroke="#333" stroke-width="0.8"/>
<line x1="596.3" y1="51.5" x2="599.5" y2="51.5" stroke="#333" stroke-width="0.8"/>
<line x1="596.3" y1="76.6" x2="599.5" y2="76.6" stroke="#333" stroke-width="0.8"/>
<line x1="604.5" y1="99.9" x2="604.5" y2="106" stroke="#333" stroke-width="0.8"/>
<line x1="602.9" y1="99.9" x2="606.1" y2="99.9" stroke="#333" stroke-width="0.8"/>
<line x1="602.9" y1="106" x2="606.1" y2="106" stroke="#333" stroke-width="0.8"/>
<line x1="615.3" y1="91.4" x2="615.3" y2="102.1" stroke="#333" stroke-width="0.8"/>
<line x1="613.7" y1="91.4" x2="616.9" y2="91.4" stroke="#333" stroke-width="0.8"/>
<line x1="613.7" y1="102.1" x2="616.9" y2="102.1" stroke="#333" stroke-width="0.8"/>
<line x1="621.8" y1="64.8" x2="621.8" y2="92.1" stroke="#333" stroke-width="0.8"/>
<line x1="620.2" y1="64.8" x2="623.4" y2="64.8" stroke="#333" stroke-width="0.8"/>
<line x1="620.2" y1="92.1" x2="623.4" y2="92.1" stroke="#333" stroke-width="0.8"/>
<line x1="628.3" y1="103" x2="628.3" y2="106.5" stroke="#333" stroke-width="0.8"/>
<line x1="626.7" y1="103" x2="629.9" y2="103" stroke="#333" stroke-width="0.8"/>
<line x1="626.7" y1="106.5" x2="629.9" y2="106.5" stroke="#333" stroke-width="0.8"/>
<line x1="638.6" y1="91.3" x2="638.6" y2="106" stroke="#333" stroke-width="0.8"/>
<line x1="637" y1="91.3" x2="640.2" y2="91.3" stroke="#333" stroke-width="0.8"/>
<line x1="637" y1="106" x2="640.2" y2="106" stroke="#333" stroke-width="0.8"/>
<line x1="645.1" y1="78.8" x2="645.1" y2="85" stroke="#333" stroke-width="0.8"/>
<line x1="643.5" y1="78.8" x2="646.7" y2="78.8" stroke="#333" stroke-width="0.8"/>
<line x1="643.5" y1="85" x2="646.7" y2="85" stroke="#333" stroke-width="0.8"/>
<line x1="651.6" y1="52" x2="651.6" y2="98.8" stroke="#333" stroke-width="0.8"/>
<line x1="650" y1="52" x2="653.2" y2="52" stroke="#333" stroke-width="0.8"/>
<line x1="650" y1="98.8" x2="653.2" y2="98.8" stroke="#333" stroke-width="0.8"/>
<line x1="662.3" y1="83.8" x2="662.3" y2="91.3" stroke="#333" stroke-width="0.8"/>
<line x1="660.7" y1="83.8" x2="663.9" y2="83.8" stroke="#333" stroke-width="0.8"/>
<line x1="660.7" y1="91.3" x2="663.9" y2="91.3" stroke="#333" stroke-width="0.8"/>
<line x1="668.8" y1="35" x2="668.8" y2="71.3" stroke="#333" stroke-width="0.8"/>
<line x1="667.2" y1="35" x2="670.4" y2="35" stroke="#333" stroke-width="0.8"/>
<line x1="667.2" y1="71.3" x2="670.4" y2="71.3" stroke="#333" stroke-width="0.8"/>
<line x1="675.3" y1="55" x2="675.3" y2="82.5" stroke="#333" stroke-width="0.8"/>
<line x1="673.7" y1="55" x2="676.9" y2="55" stroke="#333" stroke-width="0.8"/>
<line x1="673.7" y1="82.5" x2="676.9" y2="82.5" stroke="#333" stroke-width="0.8"/>
<circle cx="590" cy="104" r="1.0" fill="white" stroke="#555" stroke-width="0.6"/>
<circle cx="592.5" cy="108" r="1.0" fill="white" stroke="#555" stroke-width="0.6"/>
<circle cx="596.5" cy="63" r="1.0" fill="white" stroke="#555" stroke-width="0.6"/>
<circle cx="598.5" cy="76" r="1.0" fill="white" stroke="#555" stroke-width="0.6"/>
<circle cx="601" cy="52.5" r="1.0" fill="white" stroke="#555" stroke-width="0.6"/>
<circle cx="604.5" cy="56" r="1.0" fill="white" stroke="#555" stroke-width="0.6"/>
<circle cx="603" cy="102" r="1.0" fill="white" stroke="#555" stroke-width="0.6"/>
<circle cx="606" cy="101" r="1.0" fill="white" stroke="#555" stroke-width="0.6"/>
<circle cx="614.5" cy="93" r="1.0" fill="white" stroke="#555" stroke-width="0.6"/>
<circle cx="617" cy="99" r="1.0" fill="white" stroke="#555" stroke-width="0.6"/>
<circle cx="621.8" cy="55" r="1.0" fill="white" stroke="#555" stroke-width="0.6"/>
<circle cx="620" cy="86" r="1.0" fill="white" stroke="#555" stroke-width="0.6"/>
<circle cx="627.5" cy="104" r="1.0" fill="white" stroke="#555" stroke-width="0.6"/>
<circle cx="630" cy="105" r="1.0" fill="white" stroke="#555" stroke-width="0.6"/>
<circle cx="637.5" cy="90" r="1.0" fill="white" stroke="#555" stroke-width="0.6"/>
<circle cx="638.6" cy="104" r="1.0" fill="white" stroke="#555" stroke-width="0.6"/>
<circle cx="642.5" cy="80" r="1.0" fill="white" stroke="#555" stroke-width="0.6"/>
<circle cx="645.1" cy="81" r="1.0" fill="white" stroke="#555" stroke-width="0.6"/>
<circle cx="647.5" cy="82" r="1.0" fill="white" stroke="#555" stroke-width="0.6"/>
<circle cx="651.6" cy="40" r="1.0" fill="white" stroke="#555" stroke-width="0.6"/>
<circle cx="659.5" cy="85" r="1.0" fill="white" stroke="#555" stroke-width="0.6"/>
<circle cx="662.3" cy="87.5" r="1.0" fill="white" stroke="#555" stroke-width="0.6"/>
<circle cx="665" cy="83" r="1.0" fill="white" stroke="#555" stroke-width="0.6"/>
<circle cx="666" cy="33.5" r="1.0" fill="white" stroke="#555" stroke-width="0.6"/>
<circle cx="668.8" cy="55" r="1.0" fill="white" stroke="#555" stroke-width="0.6"/>
<circle cx="670.5" cy="64" r="1.0" fill="white" stroke="#555" stroke-width="0.6"/>
<circle cx="677" cy="57" r="1.0" fill="white" stroke="#555" stroke-width="0.6"/>
<circle cx="678.3" cy="63" r="1.0" fill="white" stroke="#555" stroke-width="0.6"/>
<line x1="588.2" y1="122.4" x2="607.45" y2="122.4" stroke="#8c8c8c" stroke-width="1.1"/>
<line x1="612.2" y1="122.4" x2="631.45" y2="122.4" stroke="#8c8c8c" stroke-width="1.1"/>
<line x1="635.5" y1="122.4" x2="654.75" y2="122.4" stroke="#8c8c8c" stroke-width="1.1"/>
<line x1="659.2" y1="122.4" x2="678.45" y2="122.4" stroke="#8c8c8c" stroke-width="1.1"/>
<text x="597.83" y="131.6" font-size="8" text-anchor="middle" >-</text>
<text x="621.83" y="131.6" font-size="8" text-anchor="middle" >-</text>
<text x="645.12" y="132.7" font-size="8" text-anchor="middle" >OVA</text>
<text x="668.83" y="132.7" font-size="8" text-anchor="middle" >OVA+</text>
<text x="668.83" y="140.6" font-size="8" text-anchor="middle" >J-1012</text>
<line x1="612.8" y1="142.3" x2="684.4" y2="142.3" stroke="#333" stroke-width="1"/>
<text x="648.2" y="150" font-size="8" text-anchor="middle" >LPS</text>
<line x1="37.6" y1="199.6" x2="119.4" y2="199.6" stroke="#333" stroke-width="1"/>
<line x1="119.4" y1="199.6" x2="119.4" y2="297.3" stroke="#888" stroke-width="1.3"/>
<line x1="37.6" y1="199.1" x2="37.6" y2="297.8" stroke="#333" stroke-width="1"/>
<line x1="37.1" y1="297.3" x2="119.4" y2="297.3" stroke="#333" stroke-width="1"/>
<line x1="37.6" y1="297.3" x2="39.8" y2="297.3" stroke="#333" stroke-width="1.0"/>
<text x="34.2" y="300.55" font-size="8" text-anchor="end" >0</text>
<line x1="37.6" y1="248.45" x2="39.8" y2="248.45" stroke="#333" stroke-width="1.0"/>
<text x="34.2" y="251.7" font-size="8" text-anchor="end" >0.4</text>
<line x1="37.6" y1="199.6" x2="39.8" y2="199.6" stroke="#333" stroke-width="1.0"/>
<text x="34.2" y="202.85" font-size="8" text-anchor="end" >0.8</text>
<line x1="37.6" y1="285.09" x2="39.8" y2="285.09" stroke="#333" stroke-width="1.0"/>
<line x1="37.6" y1="272.88" x2="39.8" y2="272.88" stroke="#333" stroke-width="1.0"/>
<line x1="37.6" y1="260.66" x2="39.8" y2="260.66" stroke="#333" stroke-width="1.0"/>
<line x1="37.6" y1="236.24" x2="39.8" y2="236.24" stroke="#333" stroke-width="1.0"/>
<line x1="37.6" y1="224.03" x2="39.8" y2="224.03" stroke="#333" stroke-width="1.0"/>
<line x1="37.6" y1="211.81" x2="39.8" y2="211.81" stroke="#333" stroke-width="1.0"/>
<text transform="translate(18.1,244.3) rotate(-90)" font-size="8" text-anchor="middle" >IL-10 (ng/ml)</text>
<rect x="43.7" y="278.98" width="6.2" height="18.32" fill="#fff" stroke="#2a2a2a" stroke-width="0.9"/>
<rect x="49.9" y="243.56" width="6.2" height="53.74" fill="#cdcdcd" stroke="#2a2a2a" stroke-width="0.9"/>
<rect x="56.1" y="233.8" width="6.2" height="63.5" fill="#6d6d6d" stroke="#2a2a2a" stroke-width="0.9"/>
<rect x="68.8" y="282.64" width="6.2" height="14.66" fill="#fff" stroke="#2a2a2a" stroke-width="0.9"/>
<rect x="75" y="246.01" width="6.2" height="51.29" fill="#cdcdcd" stroke="#2a2a2a" stroke-width="0.9"/>
<rect x="81.2" y="241.12" width="6.2" height="56.18" fill="#6d6d6d" stroke="#2a2a2a" stroke-width="0.9"/>
<rect x="95" y="278.98" width="6.2" height="18.32" fill="#fff" stroke="#2a2a2a" stroke-width="0.9"/>
<rect x="101.2" y="246.01" width="6.2" height="51.29" fill="#cdcdcd" stroke="#2a2a2a" stroke-width="0.9"/>
<rect x="107.4" y="254.56" width="6.2" height="42.74" fill="#6d6d6d" stroke="#2a2a2a" stroke-width="0.9"/>
<line x1="52.3" y1="231.35" x2="52.3" y2="263.11" stroke="#333" stroke-width="0.8"/>
<line x1="50.7" y1="231.35" x2="53.9" y2="231.35" stroke="#333" stroke-width="0.8"/>
<line x1="58.6" y1="201.4" x2="58.6" y2="270.43" stroke="#333" stroke-width="0.8"/>
<line x1="57" y1="201.4" x2="60.2" y2="201.4" stroke="#333" stroke-width="0.8"/>
<line x1="77.5" y1="241.12" x2="77.5" y2="250.89" stroke="#333" stroke-width="0.8"/>
<line x1="75.9" y1="241.12" x2="79.1" y2="241.12" stroke="#333" stroke-width="0.8"/>
<line x1="83.8" y1="237.46" x2="83.8" y2="244.79" stroke="#333" stroke-width="0.8"/>
<line x1="82.2" y1="237.46" x2="85.4" y2="237.46" stroke="#333" stroke-width="0.8"/>
<line x1="104.2" y1="230.13" x2="104.2" y2="263.11" stroke="#333" stroke-width="0.8"/>
<line x1="102.6" y1="230.13" x2="105.8" y2="230.13" stroke="#333" stroke-width="0.8"/>
<line x1="110.5" y1="242.34" x2="110.5" y2="265.55" stroke="#333" stroke-width="0.8"/>
<line x1="108.9" y1="242.34" x2="112.1" y2="242.34" stroke="#333" stroke-width="0.8"/>
<line x1="46.6" y1="276.5" x2="46.6" y2="282.5" stroke="#333" stroke-width="0.8"/>
<line x1="45" y1="276.5" x2="48.2" y2="276.5" stroke="#333" stroke-width="0.8"/>
<line x1="45" y1="282.5" x2="48.2" y2="282.5" stroke="#333" stroke-width="0.8"/>
<line x1="71.4" y1="279.5" x2="71.4" y2="285.5" stroke="#333" stroke-width="0.8"/>
<line x1="69.8" y1="279.5" x2="73" y2="279.5" stroke="#333" stroke-width="0.8"/>
<line x1="69.8" y1="285.5" x2="73" y2="285.5" stroke="#333" stroke-width="0.8"/>
<line x1="98.5" y1="275" x2="98.5" y2="282.4" stroke="#333" stroke-width="0.8"/>
<line x1="96.9" y1="275" x2="100.1" y2="275" stroke="#333" stroke-width="0.8"/>
<line x1="96.9" y1="282.4" x2="100.1" y2="282.4" stroke="#333" stroke-width="0.8"/>
<circle cx="45.5" cy="277.7" r="1.0" fill="white" stroke="#555" stroke-width="0.6"/>
<circle cx="47.2" cy="280" r="1.0" fill="white" stroke="#555" stroke-width="0.6"/>
<circle cx="46" cy="282.5" r="1.0" fill="white" stroke="#555" stroke-width="0.6"/>
<circle cx="51.5" cy="233" r="1.0" fill="white" stroke="#555" stroke-width="0.6"/>
<circle cx="52.5" cy="254" r="1.0" fill="white" stroke="#555" stroke-width="0.6"/>
<circle cx="50.5" cy="258" r="1.0" fill="white" stroke="#555" stroke-width="0.6"/>
<circle cx="56.5" cy="207" r="1.0" fill="white" stroke="#555" stroke-width="0.6"/>
<circle cx="60.3" cy="243" r="1.0" fill="white" stroke="#555" stroke-width="0.6"/>
<circle cx="58.3" cy="268" r="1.0" fill="white" stroke="#555" stroke-width="0.6"/>
<circle cx="70.5" cy="280" r="1.0" fill="white" stroke="#555" stroke-width="0.6"/>
<circle cx="72.5" cy="283.5" r="1.0" fill="white" stroke="#555" stroke-width="0.6"/>
<circle cx="76.5" cy="242" r="1.0" fill="white" stroke="#555" stroke-width="0.6"/>
<circle cx="78" cy="249" r="1.0" fill="white" stroke="#555" stroke-width="0.6"/>
<circle cx="82.5" cy="240" r="1.0" fill="white" stroke="#555" stroke-width="0.6"/>
<circle cx="84.5" cy="241.5" r="1.0" fill="white" stroke="#555" stroke-width="0.6"/>
<circle cx="97.5" cy="277" r="1.0" fill="white" stroke="#555" stroke-width="0.6"/>
<circle cx="99.5" cy="280" r="1.0" fill="white" stroke="#555" stroke-width="0.6"/>
<circle cx="103.5" cy="229.5" r="1.0" fill="white" stroke="#555" stroke-width="0.6"/>
<circle cx="104.6" cy="240" r="1.0" fill="white" stroke="#555" stroke-width="0.6"/>
<circle cx="102.5" cy="264" r="1.0" fill="white" stroke="#555" stroke-width="0.6"/>
<circle cx="110" cy="243" r="1.0" fill="white" stroke="#555" stroke-width="0.6"/>
<circle cx="112.5" cy="242" r="1.0" fill="white" stroke="#555" stroke-width="0.6"/>
<circle cx="111" cy="266" r="1.0" fill="white" stroke="#555" stroke-width="0.6"/>
<text x="63.8" y="208.8" font-size="8" text-anchor="start" >Restimulation</text>
<line x1="63.8" y1="209.8" x2="112.1" y2="209.8" stroke="#999" stroke-width="1.0"/>
<rect x="73.8" y="212.3" width="5" height="5" fill="#fff" stroke="#333" stroke-width="0.8"/>
<text x="82.4" y="217.9" font-size="8" text-anchor="start" >None</text>
<rect x="73.8" y="220.6" width="5" height="5" fill="#cdcdcd" stroke="#333" stroke-width="0.8"/>
<text x="82.4" y="226.2" font-size="8" text-anchor="start" >LPS</text>
<rect x="73.8" y="228.9" width="5" height="5" fill="#6d6d6d" stroke="#333" stroke-width="0.8"/>
<text x="82.4" y="234.5" font-size="8" text-anchor="start" >OVA</text>
<line x1="41.7" y1="303.4" x2="61.6" y2="303.4" stroke="#444" stroke-width="1"/>
<line x1="68.6" y1="303.4" x2="87.5" y2="303.4" stroke="#444" stroke-width="1"/>
<line x1="95" y1="303.4" x2="114.9" y2="303.4" stroke="#444" stroke-width="1"/>
<text x="37.8" y="312.4" font-size="8" text-anchor="end" >R.IgG</text>
<text x="38.8" y="321.5" font-size="8" text-anchor="end" >&#945;IL-10</text>
<text x="52.7" y="312" font-size="8" text-anchor="middle" >-</text>
<text x="78.1" y="312.4" font-size="8" text-anchor="middle" >+</text>
<text x="104.4" y="312" font-size="8" text-anchor="middle" >-</text>
<text x="52.7" y="321.1" font-size="8" text-anchor="middle" >-</text>
<text x="78.1" y="321.1" font-size="8" text-anchor="middle" >-</text>
<text x="104.4" y="321.5" font-size="8" text-anchor="middle" >+</text>
<line x1="40.8" y1="323.3" x2="115.3" y2="323.3" stroke="#333" stroke-width="1"/>
<text x="79" y="333.3" font-size="8" text-anchor="middle" >LPS+OVA+J-1012</text>
<line x1="160.8" y1="199.5" x2="242.3" y2="199.5" stroke="#333" stroke-width="1"/>
<line x1="242.3" y1="199.5" x2="242.3" y2="297.5" stroke="#888" stroke-width="1.3"/>
<line x1="160.8" y1="199" x2="160.8" y2="298" stroke="#333" stroke-width="1"/>
<line x1="160.3" y1="297.5" x2="242.3" y2="297.5" stroke="#333" stroke-width="1"/>
<line x1="160.8" y1="297.5" x2="163" y2="297.5" stroke="#333" stroke-width="1.0"/>
<text x="158" y="300.75" font-size="8" text-anchor="end" >0</text>
<line x1="160.8" y1="264.83" x2="163" y2="264.83" stroke="#333" stroke-width="1.0"/>
<text x="158" y="268.08" font-size="8" text-anchor="end" >1</text>
<line x1="160.8" y1="232.17" x2="163" y2="232.17" stroke="#333" stroke-width="1.0"/>
<text x="158" y="235.42" font-size="8" text-anchor="end" >2</text>
<line x1="160.8" y1="199.5" x2="163" y2="199.5" stroke="#333" stroke-width="1.0"/>
<text x="158" y="202.75" font-size="8" text-anchor="end" >3</text>
<line x1="160.8" y1="281.17" x2="163" y2="281.17" stroke="#333" stroke-width="1.0"/>
<line x1="160.8" y1="248.5" x2="163" y2="248.5" stroke="#333" stroke-width="1.0"/>
<line x1="160.8" y1="215.83" x2="163" y2="215.83" stroke="#333" stroke-width="1.0"/>
<text transform="translate(150,243.5) rotate(-90)" font-size="8" text-anchor="middle" >IFN-&#947; (ng/ml)</text>
<rect x="166.1" y="269.08" width="6.2" height="28.42" fill="#fff" stroke="#2a2a2a" stroke-width="0.9"/>
<rect x="172.3" y="288.35" width="6.2" height="9.15" fill="#cdcdcd" stroke="#2a2a2a" stroke-width="0.9"/>
<rect x="178.5" y="232.17" width="6.2" height="65.33" fill="#6d6d6d" stroke="#2a2a2a" stroke-width="0.9"/>
<rect x="192.2" y="274.96" width="6.2" height="22.54" fill="#fff" stroke="#2a2a2a" stroke-width="0.9"/>
<rect x="198.4" y="292.6" width="6.2" height="4.9" fill="#cdcdcd" stroke="#2a2a2a" stroke-width="0.9"/>
<rect x="204.6" y="230.53" width="6.2" height="66.97" fill="#6d6d6d" stroke="#2a2a2a" stroke-width="0.9"/>
<rect x="218.7" y="283.13" width="6.2" height="14.37" fill="#fff" stroke="#2a2a2a" stroke-width="0.9"/>
<rect x="224.9" y="294.23" width="6.2" height="3.27" fill="#cdcdcd" stroke="#2a2a2a" stroke-width="0.9"/>
<rect x="231.1" y="272.67" width="6.2" height="24.83" fill="#6d6d6d" stroke="#2a2a2a" stroke-width="0.9"/>
<line x1="169.2" y1="263.2" x2="169.2" y2="275.29" stroke="#333" stroke-width="0.8"/>
<line x1="167.6" y1="263.2" x2="170.8" y2="263.2" stroke="#333" stroke-width="0.8"/>
<line x1="175.4" y1="281.17" x2="175.4" y2="295.87" stroke="#333" stroke-width="0.8"/>
<line x1="173.8" y1="281.17" x2="177" y2="281.17" stroke="#333" stroke-width="0.8"/>
<line x1="181.5" y1="210.93" x2="181.5" y2="253.4" stroke="#333" stroke-width="0.8"/>
<line x1="179.9" y1="210.93" x2="183.1" y2="210.93" stroke="#333" stroke-width="0.8"/>
<line x1="195.3" y1="261.57" x2="195.3" y2="287.7" stroke="#333" stroke-width="0.8"/>
<line x1="193.7" y1="261.57" x2="196.9" y2="261.57" stroke="#333" stroke-width="0.8"/>
<line x1="207.7" y1="209.95" x2="207.7" y2="251.11" stroke="#333" stroke-width="0.8"/>
<line x1="206.1" y1="209.95" x2="209.3" y2="209.95" stroke="#333" stroke-width="0.8"/>
<line x1="221.8" y1="272.02" x2="221.8" y2="293.58" stroke="#333" stroke-width="0.8"/>
<line x1="220.2" y1="272.02" x2="223.4" y2="272.02" stroke="#333" stroke-width="0.8"/>
<line x1="234.2" y1="260.91" x2="234.2" y2="284.43" stroke="#333" stroke-width="0.8"/>
<line x1="232.6" y1="260.91" x2="235.8" y2="260.91" stroke="#333" stroke-width="0.8"/>
<circle cx="168" cy="262" r="1.0" fill="white" stroke="#555" stroke-width="0.6"/>
<circle cx="170.5" cy="263" r="1.0" fill="white" stroke="#555" stroke-width="0.6"/>
<circle cx="169.5" cy="273.5" r="1.0" fill="white" stroke="#555" stroke-width="0.6"/>
<circle cx="173.5" cy="281" r="1.0" fill="white" stroke="#555" stroke-width="0.6"/>
<circle cx="175.5" cy="292" r="1.0" fill="white" stroke="#555" stroke-width="0.6"/>
<circle cx="176.5" cy="297" r="1.0" fill="white" stroke="#555" stroke-width="0.6"/>
<circle cx="181.5" cy="237.5" r="1.0" fill="white" stroke="#555" stroke-width="0.6"/>
<circle cx="181.5" cy="250.5" r="1.0" fill="white" stroke="#555" stroke-width="0.6"/>
<circle cx="192.5" cy="264.5" r="1.0" fill="white" stroke="#555" stroke-width="0.6"/>
<circle cx="195.3" cy="268.8" r="1.0" fill="white" stroke="#555" stroke-width="0.6"/>
<circle cx="196" cy="290.5" r="1.0" fill="white" stroke="#555" stroke-width="0.6"/>
<circle cx="199.5" cy="294.5" r="1.0" fill="white" stroke="#555" stroke-width="0.6"/>
<circle cx="202" cy="294" r="1.0" fill="white" stroke="#555" stroke-width="0.6"/>
<circle cx="205.2" cy="223" r="1.0" fill="white" stroke="#555" stroke-width="0.6"/>
<circle cx="207.5" cy="253" r="1.0" fill="white" stroke="#555" stroke-width="0.6"/>
<circle cx="221.8" cy="272" r="1.0" fill="white" stroke="#555" stroke-width="0.6"/>
<circle cx="220.2" cy="291" r="1.0" fill="white" stroke="#555" stroke-width="0.6"/>
<circle cx="226" cy="294.5" r="1.0" fill="white" stroke="#555" stroke-width="0.6"/>
<circle cx="228.5" cy="294.5" r="1.0" fill="white" stroke="#555" stroke-width="0.6"/>
<circle cx="232.5" cy="265.5" r="1.0" fill="white" stroke="#555" stroke-width="0.6"/>
<circle cx="235" cy="265" r="1.0" fill="white" stroke="#555" stroke-width="0.6"/>
<circle cx="234.2" cy="287" r="1.0" fill="white" stroke="#555" stroke-width="0.6"/>
<circle cx="180.3" cy="212" r="1.0" fill="white" stroke="#555" stroke-width="0.6"/>
<circle cx="208.3" cy="219.5" r="1.0" fill="white" stroke="#555" stroke-width="0.6"/>
<text x="201.3" y="195.7" font-size="8" text-anchor="start" ><tspan font-style="italic">p</tspan> = 0.0435</text>
<path d="M206.4,209.4 V205.8 H233.5 V254.4" stroke="#333" stroke-width="0.9" fill="none"/>
<line x1="165" y1="303.4" x2="185" y2="303.4" stroke="#444" stroke-width="1"/>
<line x1="191" y1="303.4" x2="211" y2="303.4" stroke="#444" stroke-width="1"/>
<line x1="217.8" y1="303.4" x2="237.5" y2="303.4" stroke="#444" stroke-width="1"/>
<text x="175.5" y="312" font-size="8" text-anchor="middle" >-</text>
<text x="201.5" y="312.4" font-size="8" text-anchor="middle" >+</text>
<text x="227.5" y="312" font-size="8" text-anchor="middle" >-</text>
<text x="175.5" y="321.1" font-size="8" text-anchor="middle" >-</text>
<text x="201.5" y="321.1" font-size="8" text-anchor="middle" >-</text>
<text x="227.5" y="321.5" font-size="8" text-anchor="middle" >+</text>
<line x1="163.5" y1="323.3" x2="239" y2="323.3" stroke="#333" stroke-width="1"/>
<text x="201.2" y="333.3" font-size="8" text-anchor="middle" >LPS+OVA+J-1012</text>
<path d="M308.6,220 L308.8,207.6 L313.4,213.2 L317,208 L321,199 L324.6,194.8 L328,199 L331.5,206 L334.9,209.1 L340,204 L345,198 L349.5,191 L352.5,183 L354.8,175.4 L357.9,191 L361.7,210.2 L366.3,217.1 L369.4,219.4 L369.4,220 Z" fill="#bdbdbd" stroke="none"/>
<path d="M308.6,248.3 L308.6,227.8 L311,230.4 L313.5,228.7 L316.9,226.1 L318.5,218 L319.5,211.6 L320.5,214 L321.2,206 L322,204.5 L323,209 L323.6,205.5 L324.6,208.2 L325.4,212 L326.3,215 L327.5,218 L328.9,223.6 L330,230 L331.4,238.9 L332.5,234 L334,233.8 L335.5,238 L337,234 L338.5,239 L340,235 L341.5,237.5 L343,235.5 L344.5,239 L346,236 L347.5,240 L349,236.5 L350.5,240 L352.7,238 L354.4,245.7 L358,246 L361.2,246.6 L363,248.3 L363,248.3 Z" fill="#555555" stroke="none"/>
<line x1="335" y1="223.4" x2="382" y2="223.4" stroke="#333" stroke-width="0.9"/>
<line x1="335" y1="222.1" x2="335" y2="224.7" stroke="#333" stroke-width="0.8"/>
<line x1="382" y1="222.1" x2="382" y2="224.7" stroke="#333" stroke-width="0.8"/>
<rect x="308.6" y="171.8" width="76.9" height="76.5" fill="none" stroke="#333" stroke-width="1"/>
<line x1="308.6" y1="248.3" x2="308.6" y2="249.8" stroke="#333" stroke-width="0.6"/>
<text x="308.6" y="255.1" font-size="3.8" text-anchor="middle" style="stroke:none;fill:#555">10<tspan font-size="2.8" dy="-1.4">0</tspan></text>
<line x1="314.39" y1="248.3" x2="314.39" y2="249.1" stroke="#555" stroke-width="0.4"/>
<line x1="317.77" y1="248.3" x2="317.77" y2="249.1" stroke="#555" stroke-width="0.4"/>
<line x1="320.17" y1="248.3" x2="320.17" y2="249.1" stroke="#555" stroke-width="0.4"/>
<line x1="322.04" y1="248.3" x2="322.04" y2="249.1" stroke="#555" stroke-width="0.4"/>
<line x1="323.56" y1="248.3" x2="323.56" y2="249.1" stroke="#555" stroke-width="0.4"/>
<line x1="324.85" y1="248.3" x2="324.85" y2="249.1" stroke="#555" stroke-width="0.4"/>
<line x1="325.96" y1="248.3" x2="325.96" y2="249.1" stroke="#555" stroke-width="0.4"/>
<line x1="326.95" y1="248.3" x2="326.95" y2="249.1" stroke="#555" stroke-width="0.4"/>
<line x1="327.83" y1="248.3" x2="327.83" y2="249.8" stroke="#333" stroke-width="0.6"/>
<text x="327.83" y="255.1" font-size="3.8" text-anchor="middle" style="stroke:none;fill:#555">10<tspan font-size="2.8" dy="-1.4">1</tspan></text>
<line x1="333.61" y1="248.3" x2="333.61" y2="249.1" stroke="#555" stroke-width="0.4"/>
<line x1="337" y1="248.3" x2="337" y2="249.1" stroke="#555" stroke-width="0.4"/>
<line x1="339.4" y1="248.3" x2="339.4" y2="249.1" stroke="#555" stroke-width="0.4"/>
<line x1="341.26" y1="248.3" x2="341.26" y2="249.1" stroke="#555" stroke-width="0.4"/>
<line x1="342.78" y1="248.3" x2="342.78" y2="249.1" stroke="#555" stroke-width="0.4"/>
<line x1="344.07" y1="248.3" x2="344.07" y2="249.1" stroke="#555" stroke-width="0.4"/>
<line x1="345.19" y1="248.3" x2="345.19" y2="249.1" stroke="#555" stroke-width="0.4"/>
<line x1="346.17" y1="248.3" x2="346.17" y2="249.1" stroke="#555" stroke-width="0.4"/>
<line x1="347.05" y1="248.3" x2="347.05" y2="249.8" stroke="#333" stroke-width="0.6"/>
<text x="347.05" y="255.1" font-size="3.8" text-anchor="middle" style="stroke:none;fill:#555">10<tspan font-size="2.8" dy="-1.4">2</tspan></text>
<line x1="352.84" y1="248.3" x2="352.84" y2="249.1" stroke="#555" stroke-width="0.4"/>
<line x1="356.22" y1="248.3" x2="356.22" y2="249.1" stroke="#555" stroke-width="0.4"/>
<line x1="358.62" y1="248.3" x2="358.62" y2="249.1" stroke="#555" stroke-width="0.4"/>
<line x1="360.49" y1="248.3" x2="360.49" y2="249.1" stroke="#555" stroke-width="0.4"/>
<line x1="362.01" y1="248.3" x2="362.01" y2="249.1" stroke="#555" stroke-width="0.4"/>
<line x1="363.3" y1="248.3" x2="363.3" y2="249.1" stroke="#555" stroke-width="0.4"/>
<line x1="364.41" y1="248.3" x2="364.41" y2="249.1" stroke="#555" stroke-width="0.4"/>
<line x1="365.4" y1="248.3" x2="365.4" y2="249.1" stroke="#555" stroke-width="0.4"/>
<line x1="366.27" y1="248.3" x2="366.27" y2="249.8" stroke="#333" stroke-width="0.6"/>
<text x="366.27" y="255.1" font-size="3.8" text-anchor="middle" style="stroke:none;fill:#555">10<tspan font-size="2.8" dy="-1.4">3</tspan></text>
<line x1="372.06" y1="248.3" x2="372.06" y2="249.1" stroke="#555" stroke-width="0.4"/>
<line x1="375.45" y1="248.3" x2="375.45" y2="249.1" stroke="#555" stroke-width="0.4"/>
<line x1="377.85" y1="248.3" x2="377.85" y2="249.1" stroke="#555" stroke-width="0.4"/>
<line x1="379.71" y1="248.3" x2="379.71" y2="249.1" stroke="#555" stroke-width="0.4"/>
<line x1="381.23" y1="248.3" x2="381.23" y2="249.1" stroke="#555" stroke-width="0.4"/>
<line x1="382.52" y1="248.3" x2="382.52" y2="249.1" stroke="#555" stroke-width="0.4"/>
<line x1="383.64" y1="248.3" x2="383.64" y2="249.1" stroke="#555" stroke-width="0.4"/>
<line x1="384.62" y1="248.3" x2="384.62" y2="249.1" stroke="#555" stroke-width="0.4"/>
<line x1="385.5" y1="248.3" x2="385.5" y2="249.8" stroke="#333" stroke-width="0.6"/>
<text x="385.5" y="255.1" font-size="3.8" text-anchor="middle" style="stroke:none;fill:#555">10<tspan font-size="2.8" dy="-1.4">4</tspan></text>
<path d="M391.4,220.3 L391.4,192 L392.5,186 L393.8,184.6 L395.5,196 L397.5,204.1 L400,196 L402.6,186.4 L405,179 L407.2,176.4 L409,181 L411,191 L413.3,200.3 L416,202.5 L418.7,204.1 L421.5,206 L424.1,209.5 L427.9,213.6 L431.5,215.3 L435.6,216.5 L441,218 L446,219.5 L449.5,220.3 L449.5,220.3 Z" fill="#bdbdbd" stroke="none"/>
<path d="M391.4,248.8 L391.4,248.6 L398.2,248.3 L403.3,246.6 L406.7,243.1 L410.1,239.7 L412,233 L413.6,228.7 L415.3,231.2 L416.5,220 L417.8,210.8 L419.2,207 L420.4,204.8 L421.3,208 L422.1,209.9 L423.8,216.7 L425.5,232 L426.8,240 L428,243.1 L430,245 L432.3,243.1 L434,246 L436,243.5 L438,246.5 L440,243.5 L442.5,243.1 L444.5,246 L446.8,247.4 L448.5,248.6 L448.5,248.8 Z" fill="#555555" stroke="none"/>
<line x1="430.2" y1="234.1" x2="465.5" y2="234.1" stroke="#333" stroke-width="0.9"/>
<line x1="430.2" y1="232.8" x2="430.2" y2="235.4" stroke="#333" stroke-width="0.8"/>
<line x1="465.5" y1="232.8" x2="465.5" y2="235.4" stroke="#333" stroke-width="0.8"/>
<rect x="391.4" y="172.6" width="76.7" height="76.2" fill="none" stroke="#333" stroke-width="1"/>
<line x1="391.4" y1="248.8" x2="391.4" y2="250.3" stroke="#333" stroke-width="0.6"/>
<text x="391.4" y="255.6" font-size="3.8" text-anchor="middle" style="stroke:none;fill:#555">10<tspan font-size="2.8" dy="-1.4">0</tspan></text>
<line x1="397.17" y1="248.8" x2="397.17" y2="249.6" stroke="#555" stroke-width="0.4"/>
<line x1="400.55" y1="248.8" x2="400.55" y2="249.6" stroke="#555" stroke-width="0.4"/>
<line x1="402.94" y1="248.8" x2="402.94" y2="249.6" stroke="#555" stroke-width="0.4"/>
<line x1="404.8" y1="248.8" x2="404.8" y2="249.6" stroke="#555" stroke-width="0.4"/>
<line x1="406.32" y1="248.8" x2="406.32" y2="249.6" stroke="#555" stroke-width="0.4"/>
<line x1="407.6" y1="248.8" x2="407.6" y2="249.6" stroke="#555" stroke-width="0.4"/>
<line x1="408.72" y1="248.8" x2="408.72" y2="249.6" stroke="#555" stroke-width="0.4"/>
<line x1="409.7" y1="248.8" x2="409.7" y2="249.6" stroke="#555" stroke-width="0.4"/>
<line x1="410.57" y1="248.8" x2="410.57" y2="250.3" stroke="#333" stroke-width="0.6"/>
<text x="410.57" y="255.6" font-size="3.8" text-anchor="middle" style="stroke:none;fill:#555">10<tspan font-size="2.8" dy="-1.4">1</tspan></text>
<line x1="416.35" y1="248.8" x2="416.35" y2="249.6" stroke="#555" stroke-width="0.4"/>
<line x1="419.72" y1="248.8" x2="419.72" y2="249.6" stroke="#555" stroke-width="0.4"/>
<line x1="422.12" y1="248.8" x2="422.12" y2="249.6" stroke="#555" stroke-width="0.4"/>
<line x1="423.98" y1="248.8" x2="423.98" y2="249.6" stroke="#555" stroke-width="0.4"/>
<line x1="425.5" y1="248.8" x2="425.5" y2="249.6" stroke="#555" stroke-width="0.4"/>
<line x1="426.78" y1="248.8" x2="426.78" y2="249.6" stroke="#555" stroke-width="0.4"/>
<line x1="427.89" y1="248.8" x2="427.89" y2="249.6" stroke="#555" stroke-width="0.4"/>
<line x1="428.87" y1="248.8" x2="428.87" y2="249.6" stroke="#555" stroke-width="0.4"/>
<line x1="429.75" y1="248.8" x2="429.75" y2="250.3" stroke="#333" stroke-width="0.6"/>
<text x="429.75" y="255.6" font-size="3.8" text-anchor="middle" style="stroke:none;fill:#555">10<tspan font-size="2.8" dy="-1.4">2</tspan></text>
<line x1="435.52" y1="248.8" x2="435.52" y2="249.6" stroke="#555" stroke-width="0.4"/>
<line x1="438.9" y1="248.8" x2="438.9" y2="249.6" stroke="#555" stroke-width="0.4"/>
<line x1="441.29" y1="248.8" x2="441.29" y2="249.6" stroke="#555" stroke-width="0.4"/>
<line x1="443.15" y1="248.8" x2="443.15" y2="249.6" stroke="#555" stroke-width="0.4"/>
<line x1="444.67" y1="248.8" x2="444.67" y2="249.6" stroke="#555" stroke-width="0.4"/>
<line x1="445.95" y1="248.8" x2="445.95" y2="249.6" stroke="#555" stroke-width="0.4"/>
<line x1="447.07" y1="248.8" x2="447.07" y2="249.6" stroke="#555" stroke-width="0.4"/>
<line x1="448.05" y1="248.8" x2="448.05" y2="249.6" stroke="#555" stroke-width="0.4"/>
<line x1="448.93" y1="248.8" x2="448.93" y2="250.3" stroke="#333" stroke-width="0.6"/>
<text x="448.93" y="255.6" font-size="3.8" text-anchor="middle" style="stroke:none;fill:#555">10<tspan font-size="2.8" dy="-1.4">3</tspan></text>
<line x1="454.7" y1="248.8" x2="454.7" y2="249.6" stroke="#555" stroke-width="0.4"/>
<line x1="458.07" y1="248.8" x2="458.07" y2="249.6" stroke="#555" stroke-width="0.4"/>
<line x1="460.47" y1="248.8" x2="460.47" y2="249.6" stroke="#555" stroke-width="0.4"/>
<line x1="462.33" y1="248.8" x2="462.33" y2="249.6" stroke="#555" stroke-width="0.4"/>
<line x1="463.85" y1="248.8" x2="463.85" y2="249.6" stroke="#555" stroke-width="0.4"/>
<line x1="465.13" y1="248.8" x2="465.13" y2="249.6" stroke="#555" stroke-width="0.4"/>
<line x1="466.24" y1="248.8" x2="466.24" y2="249.6" stroke="#555" stroke-width="0.4"/>
<line x1="467.22" y1="248.8" x2="467.22" y2="249.6" stroke="#555" stroke-width="0.4"/>
<line x1="468.1" y1="248.8" x2="468.1" y2="250.3" stroke="#333" stroke-width="0.6"/>
<text x="468.1" y="255.6" font-size="3.8" text-anchor="middle" style="stroke:none;fill:#555">10<tspan font-size="2.8" dy="-1.4">4</tspan></text>
<path d="M308.6,306.2 L308.8,291 L312.7,297.2 L316.5,294.9 L320.3,285.7 L323.4,276.5 L325.7,277.2 L329.5,285.7 L333.4,292.6 L335.7,293.3 L340.3,287.2 L344.9,283.4 L349.5,274.9 L354.1,261.9 L357.9,278 L361.7,295.6 L365.6,304.1 L368.6,305.7 L368.6,306.2 Z" fill="#bdbdbd" stroke="none"/>
<path d="M308.6,335.3 L308.6,314 L311.8,319.1 L315.2,324.2 L316.5,310 L317.8,291.8 L319,295 L320.3,292.7 L322,300.3 L323.3,296 L324.6,292.7 L326.3,295.2 L327.2,302 L328,307.1 L329.7,314 L331.4,307.1 L333.1,315.7 L334.8,309.7 L336,311 L337.4,308.9 L339.1,306.3 L341.3,300.3 L343.3,310.6 L345.9,315.7 L348.4,307.1 L351,308.9 L353.6,317.4 L355.3,314.8 L357,325.9 L360.4,329.3 L363.8,333.6 L365.5,335.3 L365.5,335.3 Z" fill="#555555" stroke="none"/>
<line x1="335.3" y1="309.7" x2="381.7" y2="309.7" stroke="#333" stroke-width="0.9"/>
<line x1="335.3" y1="308.4" x2="335.3" y2="311" stroke="#333" stroke-width="0.8"/>
<line x1="381.7" y1="308.4" x2="381.7" y2="311" stroke="#333" stroke-width="0.8"/>
<rect x="308.6" y="258.6" width="76.9" height="76.7" fill="none" stroke="#333" stroke-width="1"/>
<line x1="308.6" y1="335.3" x2="308.6" y2="336.8" stroke="#333" stroke-width="0.6"/>
<text x="308.6" y="342.1" font-size="3.8" text-anchor="middle" style="stroke:none;fill:#555">10<tspan font-size="2.8" dy="-1.4">0</tspan></text>
<line x1="314.39" y1="335.3" x2="314.39" y2="336.1" stroke="#555" stroke-width="0.4"/>
<line x1="317.77" y1="335.3" x2="317.77" y2="336.1" stroke="#555" stroke-width="0.4"/>
<line x1="320.17" y1="335.3" x2="320.17" y2="336.1" stroke="#555" stroke-width="0.4"/>
<line x1="322.04" y1="335.3" x2="322.04" y2="336.1" stroke="#555" stroke-width="0.4"/>
<line x1="323.56" y1="335.3" x2="323.56" y2="336.1" stroke="#555" stroke-width="0.4"/>
<line x1="324.85" y1="335.3" x2="324.85" y2="336.1" stroke="#555" stroke-width="0.4"/>
<line x1="325.96" y1="335.3" x2="325.96" y2="336.1" stroke="#555" stroke-width="0.4"/>
<line x1="326.95" y1="335.3" x2="326.95" y2="336.1" stroke="#555" stroke-width="0.4"/>
<line x1="327.83" y1="335.3" x2="327.83" y2="336.8" stroke="#333" stroke-width="0.6"/>
<text x="327.83" y="342.1" font-size="3.8" text-anchor="middle" style="stroke:none;fill:#555">10<tspan font-size="2.8" dy="-1.4">1</tspan></text>
<line x1="333.61" y1="335.3" x2="333.61" y2="336.1" stroke="#555" stroke-width="0.4"/>
<line x1="337" y1="335.3" x2="337" y2="336.1" stroke="#555" stroke-width="0.4"/>
<line x1="339.4" y1="335.3" x2="339.4" y2="336.1" stroke="#555" stroke-width="0.4"/>
<line x1="341.26" y1="335.3" x2="341.26" y2="336.1" stroke="#555" stroke-width="0.4"/>
<line x1="342.78" y1="335.3" x2="342.78" y2="336.1" stroke="#555" stroke-width="0.4"/>
<line x1="344.07" y1="335.3" x2="344.07" y2="336.1" stroke="#555" stroke-width="0.4"/>
<line x1="345.19" y1="335.3" x2="345.19" y2="336.1" stroke="#555" stroke-width="0.4"/>
<line x1="346.17" y1="335.3" x2="346.17" y2="336.1" stroke="#555" stroke-width="0.4"/>
<line x1="347.05" y1="335.3" x2="347.05" y2="336.8" stroke="#333" stroke-width="0.6"/>
<text x="347.05" y="342.1" font-size="3.8" text-anchor="middle" style="stroke:none;fill:#555">10<tspan font-size="2.8" dy="-1.4">2</tspan></text>
<line x1="352.84" y1="335.3" x2="352.84" y2="336.1" stroke="#555" stroke-width="0.4"/>
<line x1="356.22" y1="335.3" x2="356.22" y2="336.1" stroke="#555" stroke-width="0.4"/>
<line x1="358.62" y1="335.3" x2="358.62" y2="336.1" stroke="#555" stroke-width="0.4"/>
<line x1="360.49" y1="335.3" x2="360.49" y2="336.1" stroke="#555" stroke-width="0.4"/>
<line x1="362.01" y1="335.3" x2="362.01" y2="336.1" stroke="#555" stroke-width="0.4"/>
<line x1="363.3" y1="335.3" x2="363.3" y2="336.1" stroke="#555" stroke-width="0.4"/>
<line x1="364.41" y1="335.3" x2="364.41" y2="336.1" stroke="#555" stroke-width="0.4"/>
<line x1="365.4" y1="335.3" x2="365.4" y2="336.1" stroke="#555" stroke-width="0.4"/>
<line x1="366.27" y1="335.3" x2="366.27" y2="336.8" stroke="#333" stroke-width="0.6"/>
<text x="366.27" y="342.1" font-size="3.8" text-anchor="middle" style="stroke:none;fill:#555">10<tspan font-size="2.8" dy="-1.4">3</tspan></text>
<line x1="372.06" y1="335.3" x2="372.06" y2="336.1" stroke="#555" stroke-width="0.4"/>
<line x1="375.45" y1="335.3" x2="375.45" y2="336.1" stroke="#555" stroke-width="0.4"/>
<line x1="377.85" y1="335.3" x2="377.85" y2="336.1" stroke="#555" stroke-width="0.4"/>
<line x1="379.71" y1="335.3" x2="379.71" y2="336.1" stroke="#555" stroke-width="0.4"/>
<line x1="381.23" y1="335.3" x2="381.23" y2="336.1" stroke="#555" stroke-width="0.4"/>
<line x1="382.52" y1="335.3" x2="382.52" y2="336.1" stroke="#555" stroke-width="0.4"/>
<line x1="383.64" y1="335.3" x2="383.64" y2="336.1" stroke="#555" stroke-width="0.4"/>
<line x1="384.62" y1="335.3" x2="384.62" y2="336.1" stroke="#555" stroke-width="0.4"/>
<line x1="385.5" y1="335.3" x2="385.5" y2="336.8" stroke="#333" stroke-width="0.6"/>
<text x="385.5" y="342.1" font-size="3.8" text-anchor="middle" style="stroke:none;fill:#555">10<tspan font-size="2.8" dy="-1.4">4</tspan></text>
<path d="M391.4,305.9 L391.4,285 L392.6,276 L393.8,273.4 L395.5,283 L397.2,289.5 L399.5,285 L401.8,281.1 L404.5,270 L407.2,261.9 L409,265 L411,271.9 L413.3,282.6 L417.9,285.7 L422.5,288.7 L427.1,297.2 L434,301 L440.1,304.1 L446.3,305.9 L446.3,305.9 Z" fill="#bdbdbd" stroke="none"/>
<path d="M391.4,335.3 L391.4,334.2 L395,335 L399.9,334.4 L405,332.7 L408.4,330.1 L411.9,322.5 L414.4,315.7 L417,307.1 L419.5,298.6 L421.6,290.1 L422.9,298.6 L424.6,313.1 L426.3,319.1 L428,326.7 L429.7,331.8 L435.7,332.7 L440,333.8 L445.9,334.4 L449.3,335.3 L449.3,335.3 Z" fill="#555555" stroke="none"/>
<line x1="430.2" y1="319.6" x2="465.5" y2="319.6" stroke="#333" stroke-width="0.9"/>
<line x1="430.2" y1="318.3" x2="430.2" y2="320.9" stroke="#333" stroke-width="0.8"/>
<line x1="465.5" y1="318.3" x2="465.5" y2="320.9" stroke="#333" stroke-width="0.8"/>
<rect x="391.4" y="258.8" width="76.9" height="76.5" fill="none" stroke="#333" stroke-width="1"/>
<line x1="391.4" y1="335.3" x2="391.4" y2="336.8" stroke="#333" stroke-width="0.6"/>
<text x="391.4" y="342.1" font-size="3.8" text-anchor="middle" style="stroke:none;fill:#555">10<tspan font-size="2.8" dy="-1.4">0</tspan></text>
<line x1="397.19" y1="335.3" x2="397.19" y2="336.1" stroke="#555" stroke-width="0.4"/>
<line x1="400.57" y1="335.3" x2="400.57" y2="336.1" stroke="#555" stroke-width="0.4"/>
<line x1="402.97" y1="335.3" x2="402.97" y2="336.1" stroke="#555" stroke-width="0.4"/>
<line x1="404.84" y1="335.3" x2="404.84" y2="336.1" stroke="#555" stroke-width="0.4"/>
<line x1="406.36" y1="335.3" x2="406.36" y2="336.1" stroke="#555" stroke-width="0.4"/>
<line x1="407.65" y1="335.3" x2="407.65" y2="336.1" stroke="#555" stroke-width="0.4"/>
<line x1="408.76" y1="335.3" x2="408.76" y2="336.1" stroke="#555" stroke-width="0.4"/>
<line x1="409.75" y1="335.3" x2="409.75" y2="336.1" stroke="#555" stroke-width="0.4"/>
<line x1="410.62" y1="335.3" x2="410.62" y2="336.8" stroke="#333" stroke-width="0.6"/>
<text x="410.62" y="342.1" font-size="3.8" text-anchor="middle" style="stroke:none;fill:#555">10<tspan font-size="2.8" dy="-1.4">1</tspan></text>
<line x1="416.41" y1="335.3" x2="416.41" y2="336.1" stroke="#555" stroke-width="0.4"/>
<line x1="419.8" y1="335.3" x2="419.8" y2="336.1" stroke="#555" stroke-width="0.4"/>
<line x1="422.2" y1="335.3" x2="422.2" y2="336.1" stroke="#555" stroke-width="0.4"/>
<line x1="424.06" y1="335.3" x2="424.06" y2="336.1" stroke="#555" stroke-width="0.4"/>
<line x1="425.58" y1="335.3" x2="425.58" y2="336.1" stroke="#555" stroke-width="0.4"/>
<line x1="426.87" y1="335.3" x2="426.87" y2="336.1" stroke="#555" stroke-width="0.4"/>
<line x1="427.99" y1="335.3" x2="427.99" y2="336.1" stroke="#555" stroke-width="0.4"/>
<line x1="428.97" y1="335.3" x2="428.97" y2="336.1" stroke="#555" stroke-width="0.4"/>
<line x1="429.85" y1="335.3" x2="429.85" y2="336.8" stroke="#333" stroke-width="0.6"/>
<text x="429.85" y="342.1" font-size="3.8" text-anchor="middle" style="stroke:none;fill:#555">10<tspan font-size="2.8" dy="-1.4">2</tspan></text>
<line x1="435.64" y1="335.3" x2="435.64" y2="336.1" stroke="#555" stroke-width="0.4"/>
<line x1="439.02" y1="335.3" x2="439.02" y2="336.1" stroke="#555" stroke-width="0.4"/>
<line x1="441.42" y1="335.3" x2="441.42" y2="336.1" stroke="#555" stroke-width="0.4"/>
<line x1="443.29" y1="335.3" x2="443.29" y2="336.1" stroke="#555" stroke-width="0.4"/>
<line x1="444.81" y1="335.3" x2="444.81" y2="336.1" stroke="#555" stroke-width="0.4"/>
<line x1="446.1" y1="335.3" x2="446.1" y2="336.1" stroke="#555" stroke-width="0.4"/>
<line x1="447.21" y1="335.3" x2="447.21" y2="336.1" stroke="#555" stroke-width="0.4"/>
<line x1="448.2" y1="335.3" x2="448.2" y2="336.1" stroke="#555" stroke-width="0.4"/>
<line x1="449.07" y1="335.3" x2="449.07" y2="336.8" stroke="#333" stroke-width="0.6"/>
<text x="449.07" y="342.1" font-size="3.8" text-anchor="middle" style="stroke:none;fill:#555">10<tspan font-size="2.8" dy="-1.4">3</tspan></text>
<line x1="454.86" y1="335.3" x2="454.86" y2="336.1" stroke="#555" stroke-width="0.4"/>
<line x1="458.25" y1="335.3" x2="458.25" y2="336.1" stroke="#555" stroke-width="0.4"/>
<line x1="460.65" y1="335.3" x2="460.65" y2="336.1" stroke="#555" stroke-width="0.4"/>
<line x1="462.51" y1="335.3" x2="462.51" y2="336.1" stroke="#555" stroke-width="0.4"/>
<line x1="464.03" y1="335.3" x2="464.03" y2="336.1" stroke="#555" stroke-width="0.4"/>
<line x1="465.32" y1="335.3" x2="465.32" y2="336.1" stroke="#555" stroke-width="0.4"/>
<line x1="466.44" y1="335.3" x2="466.44" y2="336.1" stroke="#555" stroke-width="0.4"/>
<line x1="467.42" y1="335.3" x2="467.42" y2="336.1" stroke="#555" stroke-width="0.4"/>
<line x1="468.3" y1="335.3" x2="468.3" y2="336.8" stroke="#333" stroke-width="0.6"/>
<text x="468.3" y="342.1" font-size="3.8" text-anchor="middle" style="stroke:none;fill:#555">10<tspan font-size="2.8" dy="-1.4">4</tspan></text>
<rect x="313.4" y="174.8" width="5.2" height="5.4" fill="#bdbdbd" stroke="#444" stroke-width="0.8"/>
<rect x="313.4" y="185.1" width="5.2" height="5.4" fill="#555555" stroke="#333" stroke-width="0.8"/>
<text x="322.0" y="180.4" font-size="7.1">KJ1-26<tspan font-size="3.6" dy="-3.2">-</tspan></text>
<text x="322.0" y="190.3" font-size="7.1">KJ1-26<tspan font-size="3.6" dy="-3.2">+</tspan></text>
<text x="341.2" y="167.3" font-size="8">7-AAD<tspan font-size="4.6" dy="-3.3" dx="0.3">-</tspan><tspan dy="3.3" dx="0.4">SSC</tspan><tspan font-size="4.6" dy="-3.3" dx="0.3">Low</tspan><tspan dy="3.3" dx="0.4">FSC</tspan><tspan font-size="4.6" dy="-3.3" dx="0.3">low</tspan><tspan dy="3.3" dx="0.4">CD4</tspan><tspan font-size="4.6" dy="-3.3" dx="0.3">+</tspan></text>
<text x="275.9" y="213.7" font-size="8" text-anchor="start" >None</text>
<text x="272.7" y="302.4" font-size="8" text-anchor="start" >J-1012</text>
<text x="346.3" y="352" font-size="8" text-anchor="middle" >CD62L</text>
<text x="427.7" y="352" font-size="8" text-anchor="middle" >PD-1</text>
<line x1="534.1" y1="200.9" x2="534.1" y2="297.8" stroke="#333" stroke-width="1"/>
<line x1="533.6" y1="297.3" x2="571.6" y2="297.3" stroke="#333" stroke-width="1"/>
<line x1="534.1" y1="297.3" x2="536.3" y2="297.3" stroke="#333" stroke-width="1.0"/>
<text x="532" y="300.55" font-size="8" text-anchor="end" >0</text>
<line x1="534.1" y1="278.12" x2="536.3" y2="278.12" stroke="#333" stroke-width="1.0"/>
<text x="532" y="281.37" font-size="8" text-anchor="end" >10</text>
<line x1="534.1" y1="258.94" x2="536.3" y2="258.94" stroke="#333" stroke-width="1.0"/>
<text x="532" y="262.19" font-size="8" text-anchor="end" >20</text>
<line x1="534.1" y1="239.76" x2="536.3" y2="239.76" stroke="#333" stroke-width="1.0"/>
<text x="532" y="243.01" font-size="8" text-anchor="end" >30</text>
<line x1="534.1" y1="220.58" x2="536.3" y2="220.58" stroke="#333" stroke-width="1.0"/>
<text x="532" y="223.83" font-size="8" text-anchor="end" >40</text>
<line x1="534.1" y1="201.4" x2="536.3" y2="201.4" stroke="#333" stroke-width="1.0"/>
<text x="532" y="204.65" font-size="8" text-anchor="end" >50</text>
<text transform="translate(517.7,249.2) rotate(-90)" font-size="8" text-anchor="middle" >CD62L<tspan font-size="4.5" dy="-2.5">+</tspan><tspan dy="2.5">/KJ1-26</tspan><tspan font-size="4.5" dy="-2.5">+</tspan><tspan dy="2.5"> (%)</tspan></text>
<rect x="542" y="245.51" width="6.9" height="51.79" fill="#6d6d6d" stroke="#2a2a2a" stroke-width="0.9"/>
<rect x="554.1" y="214.83" width="6.9" height="82.47" fill="#6d6d6d" stroke="#2a2a2a" stroke-width="0.9"/>
<line x1="545.4" y1="238.8" x2="545.4" y2="252.23" stroke="#333" stroke-width="0.8"/>
<line x1="543.8" y1="238.8" x2="547" y2="238.8" stroke="#333" stroke-width="0.8"/>
<line x1="543.8" y1="252.23" x2="547" y2="252.23" stroke="#333" stroke-width="0.8"/>
<line x1="557.5" y1="207.15" x2="557.5" y2="222.5" stroke="#333" stroke-width="0.8"/>
<line x1="555.9" y1="207.15" x2="559.1" y2="207.15" stroke="#333" stroke-width="0.8"/>
<line x1="555.9" y1="222.5" x2="559.1" y2="222.5" stroke="#333" stroke-width="0.8"/>
<circle cx="543.2" cy="235.5" r="1.0" fill="white" stroke="#555" stroke-width="0.6"/>
<circle cx="546.8" cy="236.5" r="1.0" fill="white" stroke="#555" stroke-width="0.6"/>
<circle cx="547.2" cy="243.5" r="1.0" fill="white" stroke="#555" stroke-width="0.6"/>
<circle cx="545" cy="250.5" r="1.0" fill="white" stroke="#555" stroke-width="0.6"/>
<circle cx="544.8" cy="255" r="1.0" fill="white" stroke="#555" stroke-width="0.6"/>
<circle cx="555.5" cy="205.5" r="1.0" fill="white" stroke="#555" stroke-width="0.6"/>
<circle cx="559.2" cy="203" r="1.0" fill="white" stroke="#555" stroke-width="0.6"/>
<circle cx="556.5" cy="212" r="1.0" fill="white" stroke="#555" stroke-width="0.6"/>
<circle cx="558.8" cy="219" r="1.0" fill="white" stroke="#555" stroke-width="0.6"/>
<circle cx="557" cy="226" r="1.0" fill="white" stroke="#555" stroke-width="0.6"/>
<circle cx="620.5" cy="216" r="1.0" fill="white" stroke="#555" stroke-width="0.6"/>
<circle cx="624.4" cy="209" r="1.0" fill="white" stroke="#555" stroke-width="0.6"/>
<circle cx="623.8" cy="221" r="1.0" fill="white" stroke="#555" stroke-width="0.6"/>
<circle cx="622.3" cy="240" r="1.0" fill="white" stroke="#555" stroke-width="0.6"/>
<circle cx="620.8" cy="262" r="1.0" fill="white" stroke="#555" stroke-width="0.6"/>
<circle cx="636.8" cy="253.5" r="1.0" fill="white" stroke="#555" stroke-width="0.6"/>
<circle cx="633.5" cy="258" r="1.0" fill="white" stroke="#555" stroke-width="0.6"/>
<circle cx="636.5" cy="262" r="1.0" fill="white" stroke="#555" stroke-width="0.6"/>
<circle cx="633.8" cy="266" r="1.0" fill="white" stroke="#555" stroke-width="0.6"/>
<circle cx="635.5" cy="268" r="1.0" fill="white" stroke="#555" stroke-width="0.6"/>
<text x="526.1" y="195" font-size="8" text-anchor="start" ><tspan font-style="italic">p</tspan> = 0.0001</text>
<path d="M544.3,234.5 V201.6 H559.5 V203" stroke="#333" stroke-width="0.8" fill="none"/>
<text x="523.9" y="308.4" font-size="8" text-anchor="end" >J-1012</text>
<text x="545.5" y="308" font-size="8" text-anchor="middle" >-</text>
<text x="557.5" y="308.4" font-size="8" text-anchor="middle" >+</text>
<line x1="534" y1="310.5" x2="568.2" y2="310.5" stroke="#333" stroke-width="1"/>
<text x="551.3" y="320.6" font-size="8" text-anchor="middle" >LPS+OVA</text>
<line x1="612.8" y1="200.9" x2="612.8" y2="297.8" stroke="#333" stroke-width="1"/>
<line x1="612.3" y1="297.3" x2="648.6" y2="297.3" stroke="#333" stroke-width="1"/>
<line x1="612.8" y1="297.3" x2="615" y2="297.3" stroke="#333" stroke-width="1.0"/>
<text x="609.8" y="300.55" font-size="8" text-anchor="end" >0</text>
<line x1="612.8" y1="273.32" x2="615" y2="273.32" stroke="#333" stroke-width="1.0"/>
<text x="609.8" y="276.57" font-size="8" text-anchor="end" >4</text>
<line x1="612.8" y1="249.35" x2="615" y2="249.35" stroke="#333" stroke-width="1.0"/>
<text x="609.8" y="252.6" font-size="8" text-anchor="end" >8</text>
<line x1="612.8" y1="225.38" x2="615" y2="225.38" stroke="#333" stroke-width="1.0"/>
<text x="609.8" y="228.62" font-size="8" text-anchor="end" >12</text>
<line x1="612.8" y1="201.4" x2="615" y2="201.4" stroke="#333" stroke-width="1.0"/>
<text x="609.8" y="204.65" font-size="8" text-anchor="end" >16</text>
<text transform="translate(598.5,249.5) rotate(-90)" font-size="8" text-anchor="middle" >PD-L1<tspan font-size="4.5" dy="-2.5">high</tspan><tspan dy="2.5">/KJ1-26</tspan><tspan font-size="4.5" dy="-2.5">+</tspan><tspan dy="2.5"> (%)</tspan></text>
<rect x="619.1" y="233.17" width="6.8" height="64.13" fill="#6d6d6d" stroke="#2a2a2a" stroke-width="0.9"/>
<rect x="631.1" y="261.34" width="6.9" height="35.96" fill="#6d6d6d" stroke="#2a2a2a" stroke-width="0.9"/>
<line x1="622.5" y1="212.19" x2="622.5" y2="252.35" stroke="#333" stroke-width="0.8"/>
<line x1="620.9" y1="212.19" x2="624.1" y2="212.19" stroke="#333" stroke-width="0.8"/>
<line x1="620.9" y1="252.35" x2="624.1" y2="252.35" stroke="#333" stroke-width="0.8"/>
<line x1="634.5" y1="255.94" x2="634.5" y2="266.13" stroke="#333" stroke-width="0.8"/>
<line x1="632.9" y1="255.94" x2="636.1" y2="255.94" stroke="#333" stroke-width="0.8"/>
<line x1="632.9" y1="266.13" x2="636.1" y2="266.13" stroke="#333" stroke-width="0.8"/>
<text x="604.3" y="195" font-size="8" text-anchor="start" ><tspan font-style="italic">p</tspan> = 0.0335</text>
<path d="M622.5,205 V203.4 H633.9 V248.2" stroke="#333" stroke-width="0.8" fill="none"/>
<text x="623" y="308" font-size="8" text-anchor="middle" >-</text>
<text x="635" y="308.4" font-size="8" text-anchor="middle" >+</text>
<line x1="610" y1="310.5" x2="646.4" y2="310.5" stroke="#333" stroke-width="1"/>
<text x="628.2" y="320.6" font-size="8" text-anchor="middle" >LPS+OVA</text>
</g></svg></body></html>
